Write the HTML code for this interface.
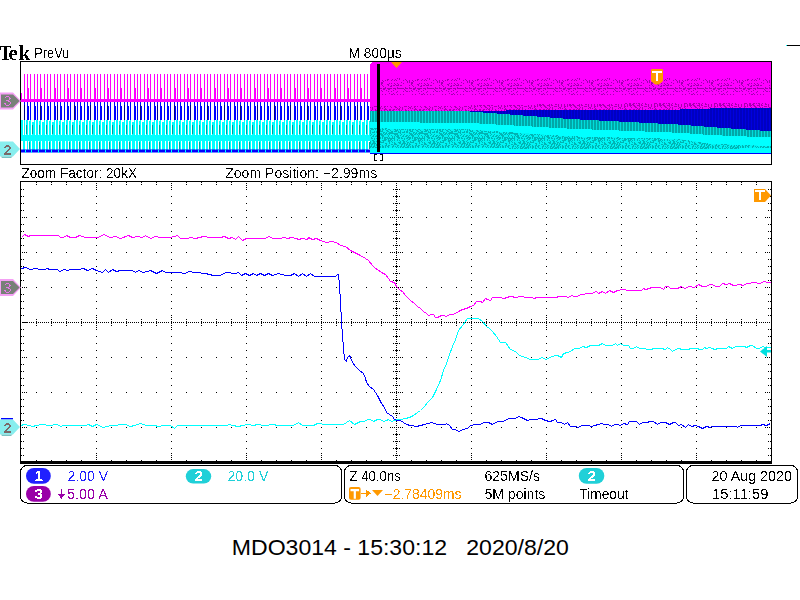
<!DOCTYPE html>
<html><head><meta charset="utf-8"><title>MDO3014</title>
<style>html,body{margin:0;padding:0;background:#fff;width:800px;height:600px;overflow:hidden}svg{display:block}</style>
</head><body>
<svg width="800" height="600" viewBox="0 0 800 600">
<defs><pattern id="pdots" x="0" y="0" width="30" height="17" patternUnits="userSpaceOnUse"><rect width="30" height="17" fill="#ff00ff"/><path d="M1 0h1v1h-1zM3 0h1v1h-1zM4 0h1v1h-1zM6 0h1v1h-1zM7 0h1v1h-1zM8 0h1v1h-1zM10 0h1v1h-1zM11 0h1v1h-1zM19 0h1v1h-1zM22 0h1v1h-1zM28 0h1v1h-1zM0 1h1v1h-1zM1 1h1v1h-1zM23 1h1v1h-1zM7 2h1v1h-1zM15 2h1v1h-1zM19 2h1v1h-1zM25 2h1v1h-1zM0 3h1v1h-1zM1 3h1v1h-1zM3 3h1v1h-1zM4 3h1v1h-1zM5 3h1v1h-1zM7 3h1v1h-1zM8 3h1v1h-1zM9 3h1v1h-1zM10 3h1v1h-1zM11 3h1v1h-1zM12 3h1v1h-1zM13 3h1v1h-1zM15 3h1v1h-1zM16 3h1v1h-1zM17 3h1v1h-1zM19 3h1v1h-1zM20 3h1v1h-1zM21 3h1v1h-1zM23 3h1v1h-1zM24 3h1v1h-1zM25 3h1v1h-1zM27 3h1v1h-1zM28 3h1v1h-1zM29 3h1v1h-1zM5 4h1v1h-1zM14 4h1v1h-1zM23 4h1v1h-1zM24 4h1v1h-1zM28 4h1v1h-1zM29 4h1v1h-1zM3 5h1v1h-1zM15 5h1v1h-1zM21 5h1v1h-1zM26 5h1v1h-1zM1 6h1v1h-1zM7 6h1v1h-1zM13 6h1v1h-1zM16 6h1v1h-1zM17 6h1v1h-1zM19 6h1v1h-1zM22 6h1v1h-1zM28 6h1v1h-1zM6 7h1v1h-1zM3 8h1v1h-1zM29 8h1v1h-1zM1 9h1v1h-1zM2 9h1v1h-1zM4 9h1v1h-1zM7 9h1v1h-1zM10 9h1v1h-1zM13 9h1v1h-1zM22 9h1v1h-1zM25 9h1v1h-1zM7 10h1v1h-1zM9 10h1v1h-1zM2 11h1v1h-1zM5 11h1v1h-1zM9 11h1v1h-1zM15 11h1v1h-1zM27 11h1v1h-1zM28 11h1v1h-1zM1 12h1v1h-1zM4 12h1v1h-1zM6 12h1v1h-1zM13 12h1v1h-1zM16 12h1v1h-1zM19 12h1v1h-1zM22 12h1v1h-1zM25 12h1v1h-1zM27 12h1v1h-1zM17 13h1v1h-1zM19 13h1v1h-1zM23 13h1v1h-1zM11 14h1v1h-1zM17 14h1v1h-1zM19 14h1v1h-1zM21 14h1v1h-1zM22 14h1v1h-1zM1 15h1v1h-1zM4 15h1v1h-1zM7 15h1v1h-1zM13 15h1v1h-1zM21 15h1v1h-1zM22 15h1v1h-1zM29 15h1v1h-1zM5 16h1v1h-1zM8 16h1v1h-1zM21 16h1v1h-1zM27 16h1v1h-1zM28 16h1v1h-1z" fill="#a000b0"/></pattern><pattern id="pdm" x="0" y="0" width="30" height="6" patternUnits="userSpaceOnUse"><rect width="30" height="6" fill="#ff00ff"/><path d="M7 0h1v1h-1zM9 0h1v1h-1zM12 0h1v1h-1zM18 0h1v1h-1zM20 0h1v1h-1zM22 0h1v1h-1zM25 0h1v1h-1zM0 1h1v1h-1zM3 1h1v1h-1zM4 1h1v1h-1zM6 1h1v1h-1zM8 1h1v1h-1zM9 1h1v1h-1zM12 1h1v1h-1zM15 1h1v1h-1zM24 1h1v1h-1zM25 1h1v1h-1zM26 1h1v1h-1zM29 1h1v1h-1zM0 2h1v1h-1zM2 2h1v1h-1zM3 2h1v1h-1zM9 2h1v1h-1zM11 2h1v1h-1zM15 2h1v1h-1zM16 2h1v1h-1zM18 2h1v1h-1zM21 2h1v1h-1zM24 2h1v1h-1zM27 2h1v1h-1zM29 2h1v1h-1zM0 3h1v1h-1zM1 3h1v1h-1zM3 3h1v1h-1zM4 3h1v1h-1zM7 3h1v1h-1zM8 3h1v1h-1zM9 3h1v1h-1zM11 3h1v1h-1zM12 3h1v1h-1zM18 3h1v1h-1zM21 3h1v1h-1zM24 3h1v1h-1zM27 3h1v1h-1zM29 3h1v1h-1zM0 4h1v1h-1zM4 4h1v1h-1zM5 4h1v1h-1zM9 4h1v1h-1zM14 4h1v1h-1zM15 4h1v1h-1zM16 4h1v1h-1zM18 4h1v1h-1zM21 4h1v1h-1zM24 4h1v1h-1zM25 4h1v1h-1zM27 4h1v1h-1zM1 5h1v1h-1zM5 5h1v1h-1zM6 5h1v1h-1zM10 5h1v1h-1zM12 5h1v1h-1zM19 5h1v1h-1zM20 5h1v1h-1zM24 5h1v1h-1z" fill="#a800b0"/></pattern><pattern id="pteal" x="0" y="0" width="3" height="2" patternUnits="userSpaceOnUse"><rect width="3" height="2" fill="#00a8a8"/><path d="M2 0h1v1h-1zM2 1h1v1h-1z" fill="#00dcdc"/></pattern><pattern id="pblue" x="0" y="0" width="3" height="2" patternUnits="userSpaceOnUse"><rect width="3" height="2" fill="#0000c0"/><path d="M1 0h1v1h-1zM1 1h1v1h-1z" fill="#0000e0"/></pattern><pattern id="ptdots" x="0" y="0" width="30" height="20" patternUnits="userSpaceOnUse"><rect width="30" height="20" fill="#00b4b4"/><path d="M1 0h1v1h-1zM3 0h1v1h-1zM5 0h1v1h-1zM6 0h1v1h-1zM8 0h1v1h-1zM10 0h1v1h-1zM11 0h1v1h-1zM14 0h1v1h-1zM15 0h1v1h-1zM16 0h1v1h-1zM18 0h1v1h-1zM19 0h1v1h-1zM20 0h1v1h-1zM21 0h1v1h-1zM26 0h1v1h-1zM27 0h1v1h-1zM0 1h1v1h-1zM2 1h1v1h-1zM3 1h1v1h-1zM4 1h1v1h-1zM5 1h1v1h-1zM6 1h1v1h-1zM7 1h1v1h-1zM8 1h1v1h-1zM9 1h1v1h-1zM11 1h1v1h-1zM12 1h1v1h-1zM15 1h1v1h-1zM17 1h1v1h-1zM18 1h1v1h-1zM19 1h1v1h-1zM21 1h1v1h-1zM22 1h1v1h-1zM24 1h1v1h-1zM25 1h1v1h-1zM26 1h1v1h-1zM27 1h1v1h-1zM0 2h1v1h-1zM1 2h1v1h-1zM3 2h1v1h-1zM5 2h1v1h-1zM6 2h1v1h-1zM7 2h1v1h-1zM11 2h1v1h-1zM12 2h1v1h-1zM15 2h1v1h-1zM16 2h1v1h-1zM19 2h1v1h-1zM24 2h1v1h-1zM25 2h1v1h-1zM26 2h1v1h-1zM27 2h1v1h-1zM28 2h1v1h-1zM0 3h1v1h-1zM1 3h1v1h-1zM2 3h1v1h-1zM3 3h1v1h-1zM6 3h1v1h-1zM7 3h1v1h-1zM8 3h1v1h-1zM11 3h1v1h-1zM16 3h1v1h-1zM18 3h1v1h-1zM20 3h1v1h-1zM21 3h1v1h-1zM22 3h1v1h-1zM23 3h1v1h-1zM24 3h1v1h-1zM27 3h1v1h-1zM28 3h1v1h-1zM0 4h1v1h-1zM3 4h1v1h-1zM7 4h1v1h-1zM8 4h1v1h-1zM9 4h1v1h-1zM10 4h1v1h-1zM13 4h1v1h-1zM15 4h1v1h-1zM18 4h1v1h-1zM21 4h1v1h-1zM22 4h1v1h-1zM23 4h1v1h-1zM24 4h1v1h-1zM25 4h1v1h-1zM27 4h1v1h-1zM28 4h1v1h-1zM29 4h1v1h-1zM0 5h1v1h-1zM1 5h1v1h-1zM2 5h1v1h-1zM4 5h1v1h-1zM5 5h1v1h-1zM6 5h1v1h-1zM9 5h1v1h-1zM10 5h1v1h-1zM12 5h1v1h-1zM13 5h1v1h-1zM15 5h1v1h-1zM17 5h1v1h-1zM20 5h1v1h-1zM21 5h1v1h-1zM23 5h1v1h-1zM24 5h1v1h-1zM27 5h1v1h-1zM0 6h1v1h-1zM1 6h1v1h-1zM4 6h1v1h-1zM6 6h1v1h-1zM8 6h1v1h-1zM9 6h1v1h-1zM12 6h1v1h-1zM15 6h1v1h-1zM16 6h1v1h-1zM19 6h1v1h-1zM21 6h1v1h-1zM24 6h1v1h-1zM26 6h1v1h-1zM29 6h1v1h-1zM0 7h1v1h-1zM1 7h1v1h-1zM3 7h1v1h-1zM4 7h1v1h-1zM5 7h1v1h-1zM7 7h1v1h-1zM9 7h1v1h-1zM11 7h1v1h-1zM14 7h1v1h-1zM19 7h1v1h-1zM21 7h1v1h-1zM24 7h1v1h-1zM26 7h1v1h-1zM27 7h1v1h-1zM29 7h1v1h-1zM1 8h1v1h-1zM3 8h1v1h-1zM6 8h1v1h-1zM8 8h1v1h-1zM9 8h1v1h-1zM13 8h1v1h-1zM17 8h1v1h-1zM19 8h1v1h-1zM20 8h1v1h-1zM21 8h1v1h-1zM23 8h1v1h-1zM24 8h1v1h-1zM27 8h1v1h-1zM28 8h1v1h-1zM0 9h1v1h-1zM1 9h1v1h-1zM2 9h1v1h-1zM3 9h1v1h-1zM6 9h1v1h-1zM8 9h1v1h-1zM10 9h1v1h-1zM14 9h1v1h-1zM16 9h1v1h-1zM18 9h1v1h-1zM21 9h1v1h-1zM24 9h1v1h-1zM26 9h1v1h-1zM27 9h1v1h-1zM1 10h1v1h-1zM2 10h1v1h-1zM3 10h1v1h-1zM4 10h1v1h-1zM8 10h1v1h-1zM9 10h1v1h-1zM11 10h1v1h-1zM12 10h1v1h-1zM13 10h1v1h-1zM14 10h1v1h-1zM15 10h1v1h-1zM16 10h1v1h-1zM18 10h1v1h-1zM21 10h1v1h-1zM23 10h1v1h-1zM24 10h1v1h-1zM25 10h1v1h-1zM28 10h1v1h-1zM29 10h1v1h-1zM0 11h1v1h-1zM3 11h1v1h-1zM7 11h1v1h-1zM9 11h1v1h-1zM11 11h1v1h-1zM12 11h1v1h-1zM13 11h1v1h-1zM15 11h1v1h-1zM18 11h1v1h-1zM19 11h1v1h-1zM23 11h1v1h-1zM24 11h1v1h-1zM25 11h1v1h-1zM26 11h1v1h-1zM29 11h1v1h-1zM3 12h1v1h-1zM4 12h1v1h-1zM5 12h1v1h-1zM6 12h1v1h-1zM7 12h1v1h-1zM11 12h1v1h-1zM15 12h1v1h-1zM18 12h1v1h-1zM20 12h1v1h-1zM21 12h1v1h-1zM22 12h1v1h-1zM25 12h1v1h-1zM27 12h1v1h-1zM28 12h1v1h-1zM8 13h1v1h-1zM9 13h1v1h-1zM11 13h1v1h-1zM12 13h1v1h-1zM13 13h1v1h-1zM14 13h1v1h-1zM15 13h1v1h-1zM16 13h1v1h-1zM17 13h1v1h-1zM18 13h1v1h-1zM22 13h1v1h-1zM24 13h1v1h-1zM27 13h1v1h-1zM0 14h1v1h-1zM1 14h1v1h-1zM2 14h1v1h-1zM3 14h1v1h-1zM8 14h1v1h-1zM9 14h1v1h-1zM10 14h1v1h-1zM12 14h1v1h-1zM13 14h1v1h-1zM15 14h1v1h-1zM16 14h1v1h-1zM17 14h1v1h-1zM18 14h1v1h-1zM19 14h1v1h-1zM23 14h1v1h-1zM26 14h1v1h-1zM28 14h1v1h-1zM0 15h1v1h-1zM2 15h1v1h-1zM3 15h1v1h-1zM4 15h1v1h-1zM6 15h1v1h-1zM9 15h1v1h-1zM11 15h1v1h-1zM12 15h1v1h-1zM14 15h1v1h-1zM15 15h1v1h-1zM18 15h1v1h-1zM20 15h1v1h-1zM24 15h1v1h-1zM25 15h1v1h-1zM26 15h1v1h-1zM27 15h1v1h-1zM29 15h1v1h-1zM0 16h1v1h-1zM1 16h1v1h-1zM3 16h1v1h-1zM5 16h1v1h-1zM9 16h1v1h-1zM10 16h1v1h-1zM11 16h1v1h-1zM14 16h1v1h-1zM17 16h1v1h-1zM19 16h1v1h-1zM20 16h1v1h-1zM21 16h1v1h-1zM24 16h1v1h-1zM25 16h1v1h-1zM26 16h1v1h-1zM27 16h1v1h-1zM29 16h1v1h-1zM0 17h1v1h-1zM1 17h1v1h-1zM3 17h1v1h-1zM5 17h1v1h-1zM6 17h1v1h-1zM10 17h1v1h-1zM12 17h1v1h-1zM13 17h1v1h-1zM14 17h1v1h-1zM15 17h1v1h-1zM16 17h1v1h-1zM21 17h1v1h-1zM23 17h1v1h-1zM28 17h1v1h-1zM5 18h1v1h-1zM6 18h1v1h-1zM7 18h1v1h-1zM10 18h1v1h-1zM13 18h1v1h-1zM15 18h1v1h-1zM18 18h1v1h-1zM21 18h1v1h-1zM23 18h1v1h-1zM26 18h1v1h-1zM2 19h1v1h-1zM3 19h1v1h-1zM5 19h1v1h-1zM6 19h1v1h-1zM8 19h1v1h-1zM9 19h1v1h-1zM10 19h1v1h-1zM11 19h1v1h-1zM12 19h1v1h-1zM13 19h1v1h-1zM15 19h1v1h-1zM16 19h1v1h-1zM17 19h1v1h-1zM20 19h1v1h-1zM21 19h1v1h-1zM22 19h1v1h-1zM23 19h1v1h-1zM27 19h1v1h-1zM29 19h1v1h-1z" fill="#00f4f4"/></pattern><filter id="crisp" x="-5%" y="-20%" width="110%" height="140%" color-interpolation-filters="sRGB"><feComponentTransfer><feFuncA type="discrete" tableValues="0 0 0 0 0 0 0 0 0 0 0 1 1 1 1 1 1 1 1 1"/></feComponentTransfer></filter></defs>
<g filter="url(#crisp)"><text x="-0.6" y="59.8" font-family="'Liberation Serif', serif" font-size="21.0" font-weight="bold" fill="#000" textLength="12.2" lengthAdjust="spacingAndGlyphs" >T</text></g>
<g filter="url(#crisp)"><text x="8.6" y="59.8" font-family="'Liberation Serif', serif" font-size="21.0" font-weight="bold" fill="#000" >e</text></g>
<g filter="url(#crisp)"><text x="18.8" y="59.8" font-family="'Liberation Serif', serif" font-size="20.2" font-weight="bold" fill="#000" >k</text></g>
<g filter="url(#crisp)"><text x="34.3" y="58.0" font-family="'Liberation Sans', sans-serif" font-size="14.8" font-weight="normal" fill="#000" textLength="35.0" lengthAdjust="spacingAndGlyphs" >PreVu</text></g>
<g filter="url(#crisp)"><text x="348.6" y="57.7" font-family="'Liberation Sans', sans-serif" font-size="14.8" font-weight="normal" fill="#000" textLength="53.0" lengthAdjust="spacingAndGlyphs" >M 800μs</text></g>
<rect x="787" y="45" width="13" height="1" fill="#000"/><rect x="786" y="45" width="1" height="1" fill="#00ffff"/>
<path d="M24 74h1v25h-1zM27 74h1v25h-1zM30 74h1v25h-1zM34 74h1v25h-1zM37 74h1v25h-1zM40 74h1v25h-1zM44 74h1v25h-1zM47 74h1v25h-1zM50 74h1v25h-1zM54 74h1v25h-1zM57 74h1v25h-1zM60 74h1v25h-1zM64 74h1v25h-1zM67 74h1v25h-1zM70 74h1v25h-1zM74 74h1v25h-1zM77 74h1v25h-1zM80 74h1v25h-1zM84 74h1v25h-1zM87 74h1v25h-1zM90 74h1v25h-1zM94 74h1v25h-1zM97 74h1v25h-1zM100 74h1v25h-1zM104 74h1v25h-1zM107 74h1v25h-1zM110 74h1v25h-1zM114 74h1v25h-1zM117 74h1v25h-1zM120 74h1v25h-1zM124 74h1v25h-1zM127 74h1v25h-1zM130 74h1v25h-1zM134 74h1v25h-1zM137 74h1v25h-1zM140 74h1v25h-1zM144 74h1v25h-1zM147 74h1v25h-1zM150 74h1v25h-1zM154 74h1v25h-1zM157 74h1v25h-1zM160 74h1v25h-1zM164 74h1v25h-1zM167 74h1v25h-1zM170 74h1v25h-1zM174 74h1v25h-1zM177 74h1v25h-1zM180 74h1v25h-1zM184 74h1v25h-1zM187 74h1v25h-1zM190 74h1v25h-1zM194 74h1v25h-1zM197 74h1v25h-1zM200 74h1v25h-1zM204 74h1v25h-1zM207 74h1v25h-1zM210 74h1v25h-1zM214 74h1v25h-1zM217 74h1v25h-1zM220 74h1v25h-1zM224 74h1v25h-1zM227 74h1v25h-1zM230 74h1v25h-1zM234 74h1v25h-1zM237 74h1v25h-1zM240 74h1v25h-1zM244 74h1v25h-1zM247 74h1v25h-1zM250 74h1v25h-1zM254 74h1v25h-1zM257 74h1v25h-1zM260 74h1v25h-1zM264 74h1v25h-1zM267 74h1v25h-1zM270 74h1v25h-1zM274 74h1v25h-1zM277 74h1v25h-1zM280 74h1v25h-1zM284 74h1v25h-1zM287 74h1v25h-1zM290 74h1v25h-1zM294 74h1v25h-1zM297 74h1v25h-1zM300 74h1v25h-1zM304 74h1v25h-1zM307 74h1v25h-1zM310 74h1v25h-1zM314 74h1v25h-1zM317 74h1v25h-1zM320 74h1v25h-1zM324 74h1v25h-1zM327 74h1v25h-1zM330 74h1v25h-1zM334 74h1v25h-1zM337 74h1v25h-1zM340 74h1v25h-1zM344 74h1v25h-1zM347 74h1v25h-1zM350 74h1v25h-1zM354 74h1v25h-1zM357 74h1v25h-1zM360 74h1v25h-1zM364 74h1v25h-1zM367 74h1v25h-1zM28 88h1v11h-1zM41 88h1v11h-1zM55 88h1v11h-1zM68 88h1v11h-1zM81 88h1v11h-1zM95 88h1v11h-1zM108 88h1v11h-1zM121 88h1v11h-1zM135 88h1v11h-1zM148 88h1v11h-1zM161 88h1v11h-1zM175 88h1v11h-1zM188 88h1v11h-1zM201 88h1v11h-1zM215 88h1v11h-1zM228 88h1v11h-1zM241 88h1v11h-1zM255 88h1v11h-1zM268 88h1v11h-1zM281 88h1v11h-1zM295 88h1v11h-1zM308 88h1v11h-1zM321 88h1v11h-1zM335 88h1v11h-1zM348 88h1v11h-1zM361 88h1v11h-1zM21 93h1v6h-1z" fill="#ff00ff"/>
<rect x="21" y="99" width="349" height="3" fill="#ff00ff"/>
<path d="M24 102h1v3h-1zM30 102h1v3h-1zM37 102h1v3h-1zM44 102h1v3h-1zM50 102h1v3h-1zM57 102h1v3h-1zM64 102h1v3h-1zM70 102h1v3h-1zM77 102h1v3h-1zM84 102h1v3h-1zM90 102h1v3h-1zM97 102h1v3h-1zM104 102h1v3h-1zM110 102h1v3h-1zM117 102h1v3h-1zM124 102h1v3h-1zM130 102h1v3h-1zM137 102h1v3h-1zM144 102h1v3h-1zM150 102h1v3h-1zM157 102h1v3h-1zM164 102h1v3h-1zM170 102h1v3h-1zM177 102h1v3h-1zM184 102h1v3h-1zM190 102h1v3h-1zM197 102h1v3h-1zM204 102h1v3h-1zM210 102h1v3h-1zM217 102h1v3h-1zM224 102h1v3h-1zM230 102h1v3h-1zM237 102h1v3h-1zM244 102h1v3h-1zM250 102h1v3h-1zM257 102h1v3h-1zM264 102h1v3h-1zM270 102h1v3h-1zM277 102h1v3h-1zM284 102h1v3h-1zM290 102h1v3h-1zM297 102h1v3h-1zM304 102h1v3h-1zM310 102h1v3h-1zM317 102h1v3h-1zM324 102h1v3h-1zM330 102h1v3h-1zM337 102h1v3h-1zM344 102h1v3h-1zM350 102h1v3h-1zM357 102h1v3h-1zM364 102h1v3h-1z" fill="#c000c0"/>
<path d="M24 102h1v19h-1zM27 102h1v19h-1zM30 102h1v19h-1zM34 102h1v19h-1zM37 102h1v19h-1zM40 102h1v19h-1zM44 102h1v19h-1zM47 102h1v19h-1zM50 102h1v19h-1zM54 102h1v19h-1zM57 102h1v19h-1zM60 102h1v19h-1zM64 102h1v19h-1zM67 102h1v19h-1zM70 102h1v19h-1zM74 102h1v19h-1zM77 102h1v19h-1zM80 102h1v19h-1zM84 102h1v19h-1zM87 102h1v19h-1zM90 102h1v19h-1zM94 102h1v19h-1zM97 102h1v19h-1zM100 102h1v19h-1zM104 102h1v19h-1zM107 102h1v19h-1zM110 102h1v19h-1zM114 102h1v19h-1zM117 102h1v19h-1zM120 102h1v19h-1zM124 102h1v19h-1zM127 102h1v19h-1zM130 102h1v19h-1zM134 102h1v19h-1zM137 102h1v19h-1zM140 102h1v19h-1zM144 102h1v19h-1zM147 102h1v19h-1zM150 102h1v19h-1zM154 102h1v19h-1zM157 102h1v19h-1zM160 102h1v19h-1zM164 102h1v19h-1zM167 102h1v19h-1zM170 102h1v19h-1zM174 102h1v19h-1zM177 102h1v19h-1zM180 102h1v19h-1zM184 102h1v19h-1zM187 102h1v19h-1zM190 102h1v19h-1zM194 102h1v19h-1zM197 102h1v19h-1zM200 102h1v19h-1zM204 102h1v19h-1zM207 102h1v19h-1zM210 102h1v19h-1zM214 102h1v19h-1zM217 102h1v19h-1zM220 102h1v19h-1zM224 102h1v19h-1zM227 102h1v19h-1zM230 102h1v19h-1zM234 102h1v19h-1zM237 102h1v19h-1zM240 102h1v19h-1zM244 102h1v19h-1zM247 102h1v19h-1zM250 102h1v19h-1zM254 102h1v19h-1zM257 102h1v19h-1zM260 102h1v19h-1zM264 102h1v19h-1zM267 102h1v19h-1zM270 102h1v19h-1zM274 102h1v19h-1zM277 102h1v19h-1zM280 102h1v19h-1zM284 102h1v19h-1zM287 102h1v19h-1zM290 102h1v19h-1zM294 102h1v19h-1zM297 102h1v19h-1zM300 102h1v19h-1zM304 102h1v19h-1zM307 102h1v19h-1zM310 102h1v19h-1zM314 102h1v19h-1zM317 102h1v19h-1zM320 102h1v19h-1zM324 102h1v19h-1zM327 102h1v19h-1zM330 102h1v19h-1zM334 102h1v19h-1zM337 102h1v19h-1zM340 102h1v19h-1zM344 102h1v19h-1zM347 102h1v19h-1zM350 102h1v19h-1zM354 102h1v19h-1zM357 102h1v19h-1zM360 102h1v19h-1zM364 102h1v19h-1zM367 102h1v19h-1zM28 106h1v14h-1zM35 106h1v14h-1zM41 106h1v14h-1zM48 106h1v14h-1zM55 106h1v14h-1zM61 106h1v14h-1zM68 106h1v14h-1zM75 106h1v14h-1zM81 106h1v14h-1zM88 106h1v14h-1zM95 106h1v14h-1zM101 106h1v14h-1zM108 106h1v14h-1zM115 106h1v14h-1zM121 106h1v14h-1zM128 106h1v14h-1zM135 106h1v14h-1zM141 106h1v14h-1zM148 106h1v14h-1zM155 106h1v14h-1zM161 106h1v14h-1zM168 106h1v14h-1zM175 106h1v14h-1zM181 106h1v14h-1zM188 106h1v14h-1zM195 106h1v14h-1zM201 106h1v14h-1zM208 106h1v14h-1zM215 106h1v14h-1zM221 106h1v14h-1zM228 106h1v14h-1zM235 106h1v14h-1zM241 106h1v14h-1zM248 106h1v14h-1zM255 106h1v14h-1zM261 106h1v14h-1zM268 106h1v14h-1zM275 106h1v14h-1zM281 106h1v14h-1zM288 106h1v14h-1zM295 106h1v14h-1zM301 106h1v14h-1zM308 106h1v14h-1zM315 106h1v14h-1zM321 106h1v14h-1zM328 106h1v14h-1zM335 106h1v14h-1zM341 106h1v14h-1zM348 106h1v14h-1zM355 106h1v14h-1zM361 106h1v14h-1zM368 106h1v14h-1z" fill="#0000ff"/>
<path d="M24 105h1v16h-1zM40 105h1v16h-1zM57 105h1v16h-1zM74 105h1v16h-1zM90 105h1v16h-1zM107 105h1v16h-1zM124 105h1v16h-1zM140 105h1v16h-1zM157 105h1v16h-1zM174 105h1v16h-1zM190 105h1v16h-1zM207 105h1v16h-1zM224 105h1v16h-1zM240 105h1v16h-1zM257 105h1v16h-1zM274 105h1v16h-1zM290 105h1v16h-1zM307 105h1v16h-1zM324 105h1v16h-1zM340 105h1v16h-1zM357 105h1v16h-1z" fill="#000090"/>
<path d="M26 120h1v15h-1zM29 121h1v14h-1zM32 122h2v13h-2zM36 120h1v15h-1zM39 121h1v14h-1zM42 122h2v13h-2zM46 120h1v15h-1zM49 121h1v14h-1zM52 122h2v13h-2zM56 120h1v15h-1zM59 121h1v14h-1zM62 122h2v13h-2zM66 120h1v15h-1zM69 121h1v14h-1zM72 122h2v13h-2zM76 120h1v15h-1zM79 121h1v14h-1zM82 122h2v13h-2zM86 120h1v15h-1zM89 121h1v14h-1zM92 122h2v13h-2zM96 120h1v15h-1zM99 121h1v14h-1zM102 122h2v13h-2zM106 120h1v15h-1zM109 121h1v14h-1zM112 122h2v13h-2zM116 120h1v15h-1zM119 121h1v14h-1zM122 122h2v13h-2zM126 120h1v15h-1zM129 121h1v14h-1zM132 122h2v13h-2zM136 120h1v15h-1zM139 121h1v14h-1zM142 122h2v13h-2zM146 120h1v15h-1zM149 121h1v14h-1zM152 122h2v13h-2zM156 120h1v15h-1zM159 121h1v14h-1zM162 122h2v13h-2zM166 120h1v15h-1zM169 121h1v14h-1zM172 122h2v13h-2zM176 120h1v15h-1zM179 121h1v14h-1zM182 122h2v13h-2zM186 120h1v15h-1zM189 121h1v14h-1zM192 122h2v13h-2zM196 120h1v15h-1zM199 121h1v14h-1zM202 122h2v13h-2zM206 120h1v15h-1zM209 121h1v14h-1zM212 122h2v13h-2zM216 120h1v15h-1zM219 121h1v14h-1zM222 122h2v13h-2zM226 120h1v15h-1zM229 121h1v14h-1zM232 122h2v13h-2zM236 120h1v15h-1zM239 121h1v14h-1zM242 122h2v13h-2zM246 120h1v15h-1zM249 121h1v14h-1zM252 122h2v13h-2zM256 120h1v15h-1zM259 121h1v14h-1zM262 122h2v13h-2zM266 120h1v15h-1zM269 121h1v14h-1zM272 122h2v13h-2zM276 120h1v15h-1zM279 121h1v14h-1zM282 122h2v13h-2zM286 120h1v15h-1zM289 121h1v14h-1zM292 122h2v13h-2zM296 120h1v15h-1zM299 121h1v14h-1zM302 122h2v13h-2zM306 120h1v15h-1zM309 121h1v14h-1zM312 122h2v13h-2zM316 120h1v15h-1zM319 121h1v14h-1zM322 122h2v13h-2zM326 120h1v15h-1zM329 121h1v14h-1zM332 122h2v13h-2zM336 120h1v15h-1zM339 121h1v14h-1zM342 122h2v13h-2zM346 120h1v15h-1zM349 121h1v14h-1zM352 122h2v13h-2zM356 120h1v15h-1zM359 121h1v14h-1zM362 122h2v13h-2zM366 120h1v15h-1zM369 121h1v14h-1z" fill="#00ffff"/>
<path d="M24 120h1v15h-1zM27 120h1v15h-1zM30 120h1v15h-1zM34 120h1v15h-1zM37 120h1v15h-1zM40 120h1v15h-1zM44 120h1v15h-1zM47 120h1v15h-1zM50 120h1v15h-1zM54 120h1v15h-1zM57 120h1v15h-1zM60 120h1v15h-1zM64 120h1v15h-1zM67 120h1v15h-1zM70 120h1v15h-1zM74 120h1v15h-1zM77 120h1v15h-1zM80 120h1v15h-1zM84 120h1v15h-1zM87 120h1v15h-1zM90 120h1v15h-1zM94 120h1v15h-1zM97 120h1v15h-1zM100 120h1v15h-1zM104 120h1v15h-1zM107 120h1v15h-1zM110 120h1v15h-1zM114 120h1v15h-1zM117 120h1v15h-1zM120 120h1v15h-1zM124 120h1v15h-1zM127 120h1v15h-1zM130 120h1v15h-1zM134 120h1v15h-1zM137 120h1v15h-1zM140 120h1v15h-1zM144 120h1v15h-1zM147 120h1v15h-1zM150 120h1v15h-1zM154 120h1v15h-1zM157 120h1v15h-1zM160 120h1v15h-1zM164 120h1v15h-1zM167 120h1v15h-1zM170 120h1v15h-1zM174 120h1v15h-1zM177 120h1v15h-1zM180 120h1v15h-1zM184 120h1v15h-1zM187 120h1v15h-1zM190 120h1v15h-1zM194 120h1v15h-1zM197 120h1v15h-1zM200 120h1v15h-1zM204 120h1v15h-1zM207 120h1v15h-1zM210 120h1v15h-1zM214 120h1v15h-1zM217 120h1v15h-1zM220 120h1v15h-1zM224 120h1v15h-1zM227 120h1v15h-1zM230 120h1v15h-1zM234 120h1v15h-1zM237 120h1v15h-1zM240 120h1v15h-1zM244 120h1v15h-1zM247 120h1v15h-1zM250 120h1v15h-1zM254 120h1v15h-1zM257 120h1v15h-1zM260 120h1v15h-1zM264 120h1v15h-1zM267 120h1v15h-1zM270 120h1v15h-1zM274 120h1v15h-1zM277 120h1v15h-1zM280 120h1v15h-1zM284 120h1v15h-1zM287 120h1v15h-1zM290 120h1v15h-1zM294 120h1v15h-1zM297 120h1v15h-1zM300 120h1v15h-1zM304 120h1v15h-1zM307 120h1v15h-1zM310 120h1v15h-1zM314 120h1v15h-1zM317 120h1v15h-1zM320 120h1v15h-1zM324 120h1v15h-1zM327 120h1v15h-1zM330 120h1v15h-1zM334 120h1v15h-1zM337 120h1v15h-1zM340 120h1v15h-1zM344 120h1v15h-1zM347 120h1v15h-1zM350 120h1v15h-1zM354 120h1v15h-1zM357 120h1v15h-1zM360 120h1v15h-1zM364 120h1v15h-1zM367 120h1v15h-1zM21 120h2v15h-2z" fill="#00ffff"/>
<path d="M26 125h1v9h-1zM32 125h1v9h-1zM39 125h1v9h-1zM46 125h1v9h-1zM52 125h1v9h-1zM59 125h1v9h-1zM66 125h1v9h-1zM72 125h1v9h-1zM79 125h1v9h-1zM86 125h1v9h-1zM92 125h1v9h-1zM99 125h1v9h-1zM106 125h1v9h-1zM112 125h1v9h-1zM119 125h1v9h-1zM126 125h1v9h-1zM132 125h1v9h-1zM139 125h1v9h-1zM146 125h1v9h-1zM152 125h1v9h-1zM159 125h1v9h-1zM166 125h1v9h-1zM172 125h1v9h-1zM179 125h1v9h-1zM186 125h1v9h-1zM192 125h1v9h-1zM199 125h1v9h-1zM206 125h1v9h-1zM212 125h1v9h-1zM219 125h1v9h-1zM226 125h1v9h-1zM232 125h1v9h-1zM239 125h1v9h-1zM246 125h1v9h-1zM252 125h1v9h-1zM259 125h1v9h-1zM266 125h1v9h-1zM272 125h1v9h-1zM279 125h1v9h-1zM286 125h1v9h-1zM292 125h1v9h-1zM299 125h1v9h-1zM306 125h1v9h-1zM312 125h1v9h-1zM319 125h1v9h-1zM326 125h1v9h-1zM332 125h1v9h-1zM339 125h1v9h-1zM346 125h1v9h-1zM352 125h1v9h-1zM359 125h1v9h-1zM366 125h1v9h-1z" fill="#00a0a0"/>
<rect x="21" y="135" width="349" height="6" fill="#00ffff"/>
<path d="M23 141h3v9h-3zM27 141h3v9h-3zM30 141h4v9h-4zM34 141h3v9h-3zM37 141h3v9h-3zM40 141h4v9h-4zM44 141h3v9h-3zM47 141h3v9h-3zM50 141h4v9h-4zM54 141h3v9h-3zM57 141h3v9h-3zM60 141h4v9h-4zM64 141h3v9h-3zM67 141h3v9h-3zM70 141h4v9h-4zM74 141h3v9h-3zM77 141h3v9h-3zM80 141h4v9h-4zM84 141h3v9h-3zM87 141h3v9h-3zM90 141h4v9h-4zM94 141h3v9h-3zM97 141h3v9h-3zM100 141h4v9h-4zM104 141h3v9h-3zM107 141h3v9h-3zM110 141h4v9h-4zM114 141h3v9h-3zM117 141h3v9h-3zM120 141h4v9h-4zM124 141h3v9h-3zM127 141h3v9h-3zM130 141h4v9h-4zM134 141h3v9h-3zM137 141h3v9h-3zM140 141h4v9h-4zM144 141h3v9h-3zM147 141h3v9h-3zM150 141h4v9h-4zM154 141h3v9h-3zM157 141h3v9h-3zM160 141h4v9h-4zM164 141h3v9h-3zM167 141h3v9h-3zM170 141h4v9h-4zM174 141h3v9h-3zM177 141h3v9h-3zM180 141h4v9h-4zM184 141h3v9h-3zM187 141h3v9h-3zM190 141h4v9h-4zM194 141h3v9h-3zM197 141h3v9h-3zM200 141h4v9h-4zM204 141h3v9h-3zM207 141h3v9h-3zM210 141h4v9h-4zM214 141h3v9h-3zM217 141h3v9h-3zM220 141h4v9h-4zM224 141h3v9h-3zM227 141h3v9h-3zM230 141h4v9h-4zM234 141h3v9h-3zM237 141h3v9h-3zM240 141h4v9h-4zM244 141h3v9h-3zM247 141h3v9h-3zM250 141h4v9h-4zM254 141h3v9h-3zM257 141h3v9h-3zM260 141h4v9h-4zM264 141h3v9h-3zM267 141h3v9h-3zM270 141h4v9h-4zM274 141h3v9h-3zM277 141h3v9h-3zM280 141h4v9h-4zM284 141h3v9h-3zM287 141h3v9h-3zM290 141h4v9h-4zM294 141h3v9h-3zM297 141h3v9h-3zM300 141h4v9h-4zM304 141h3v9h-3zM307 141h3v9h-3zM310 141h4v9h-4zM314 141h3v9h-3zM317 141h3v9h-3zM320 141h4v9h-4zM324 141h3v9h-3zM327 141h3v9h-3zM330 141h4v9h-4zM334 141h3v9h-3zM337 141h3v9h-3zM340 141h4v9h-4zM344 141h3v9h-3zM347 141h3v9h-3zM350 141h4v9h-4zM354 141h3v9h-3zM357 141h3v9h-3zM360 141h4v9h-4zM364 141h3v9h-3zM367 141h2v9h-2z" fill="#00ffff"/>
<path d="M25 141h1v9h-1zM28 141h1v9h-1zM31 141h1v9h-1zM35 141h1v9h-1zM38 141h1v9h-1zM41 141h1v9h-1zM45 141h1v9h-1zM48 141h1v9h-1zM51 141h1v9h-1zM55 141h1v9h-1zM58 141h1v9h-1zM61 141h1v9h-1zM65 141h1v9h-1zM68 141h1v9h-1zM71 141h1v9h-1zM75 141h1v9h-1zM78 141h1v9h-1zM81 141h1v9h-1zM85 141h1v9h-1zM88 141h1v9h-1zM91 141h1v9h-1zM95 141h1v9h-1zM98 141h1v9h-1zM101 141h1v9h-1zM105 141h1v9h-1zM108 141h1v9h-1zM111 141h1v9h-1zM115 141h1v9h-1zM118 141h1v9h-1zM121 141h1v9h-1zM125 141h1v9h-1zM128 141h1v9h-1zM131 141h1v9h-1zM135 141h1v9h-1zM138 141h1v9h-1zM141 141h1v9h-1zM145 141h1v9h-1zM148 141h1v9h-1zM151 141h1v9h-1zM155 141h1v9h-1zM158 141h1v9h-1zM161 141h1v9h-1zM165 141h1v9h-1zM168 141h1v9h-1zM171 141h1v9h-1zM175 141h1v9h-1zM178 141h1v9h-1zM181 141h1v9h-1zM185 141h1v9h-1zM188 141h1v9h-1zM191 141h1v9h-1zM195 141h1v9h-1zM198 141h1v9h-1zM201 141h1v9h-1zM205 141h1v9h-1zM208 141h1v9h-1zM211 141h1v9h-1zM215 141h1v9h-1zM218 141h1v9h-1zM221 141h1v9h-1zM225 141h1v9h-1zM228 141h1v9h-1zM231 141h1v9h-1zM235 141h1v9h-1zM238 141h1v9h-1zM241 141h1v9h-1zM245 141h1v9h-1zM248 141h1v9h-1zM251 141h1v9h-1zM255 141h1v9h-1zM258 141h1v9h-1zM261 141h1v9h-1zM265 141h1v9h-1zM268 141h1v9h-1zM271 141h1v9h-1zM275 141h1v9h-1zM278 141h1v9h-1zM281 141h1v9h-1zM285 141h1v9h-1zM288 141h1v9h-1zM291 141h1v9h-1zM295 141h1v9h-1zM298 141h1v9h-1zM301 141h1v9h-1zM305 141h1v9h-1zM308 141h1v9h-1zM311 141h1v9h-1zM315 141h1v9h-1zM318 141h1v9h-1zM321 141h1v9h-1zM325 141h1v9h-1zM328 141h1v9h-1zM331 141h1v9h-1zM335 141h1v9h-1zM338 141h1v9h-1zM341 141h1v9h-1zM345 141h1v9h-1zM348 141h1v9h-1zM351 141h1v9h-1zM355 141h1v9h-1zM358 141h1v9h-1zM361 141h1v9h-1zM365 141h1v9h-1zM368 141h1v9h-1z" fill="#ffffff"/>
<path d="M29 142h1v7h-1zM39 142h1v7h-1zM49 142h1v7h-1zM59 142h1v7h-1zM69 142h1v7h-1zM79 142h1v7h-1zM89 142h1v7h-1zM99 142h1v7h-1zM109 142h1v7h-1zM119 142h1v7h-1zM129 142h1v7h-1zM139 142h1v7h-1zM149 142h1v7h-1zM159 142h1v7h-1zM169 142h1v7h-1zM179 142h1v7h-1zM189 142h1v7h-1zM199 142h1v7h-1zM209 142h1v7h-1zM219 142h1v7h-1zM229 142h1v7h-1zM239 142h1v7h-1zM249 142h1v7h-1zM259 142h1v7h-1zM269 142h1v7h-1zM279 142h1v7h-1zM289 142h1v7h-1zM299 142h1v7h-1zM309 142h1v7h-1zM319 142h1v7h-1zM329 142h1v7h-1zM339 142h1v7h-1zM349 142h1v7h-1zM359 142h1v7h-1zM369 142h1v7h-1z" fill="#00a0a0"/>
<rect x="21" y="149.5" width="349" height="3" fill="#0000ff"/>
<path d="M25 150h1v3h-1zM31 150h1v3h-1zM38 150h1v3h-1zM45 150h1v3h-1zM51 150h1v3h-1zM58 150h1v3h-1zM65 150h1v3h-1zM71 150h1v3h-1zM78 150h1v3h-1zM85 150h1v3h-1zM91 150h1v3h-1zM98 150h1v3h-1zM105 150h1v3h-1zM111 150h1v3h-1zM118 150h1v3h-1zM125 150h1v3h-1zM131 150h1v3h-1zM138 150h1v3h-1zM145 150h1v3h-1zM151 150h1v3h-1zM158 150h1v3h-1zM165 150h1v3h-1zM171 150h1v3h-1zM178 150h1v3h-1zM185 150h1v3h-1zM191 150h1v3h-1zM198 150h1v3h-1zM205 150h1v3h-1zM211 150h1v3h-1zM218 150h1v3h-1zM225 150h1v3h-1zM231 150h1v3h-1zM238 150h1v3h-1zM245 150h1v3h-1zM251 150h1v3h-1zM258 150h1v3h-1zM265 150h1v3h-1zM271 150h1v3h-1zM278 150h1v3h-1zM285 150h1v3h-1zM291 150h1v3h-1zM298 150h1v3h-1zM305 150h1v3h-1zM311 150h1v3h-1zM318 150h1v3h-1zM325 150h1v3h-1zM331 150h1v3h-1zM338 150h1v3h-1zM345 150h1v3h-1zM351 150h1v3h-1zM358 150h1v3h-1zM365 150h1v3h-1z" fill="#00ffff"/>
<g shape-rendering="crispEdges">
<path d="M370 153V66q0-4 4-4H771v91z" fill="#ff00ff"/>
<rect x="380" y="78" width="391" height="17" fill="url(#pdots)"/>
<polygon points="370.0,105.5 470.0,105.5 570.0,104.0 680.0,103.0 710.0,102.6 771.0,103.0 771.0,108.0 710.0,108.5 680.0,109.5 570.0,110.0 470.0,110.8 370.0,110.8" fill="url(#pdm)"/>
<polygon points="370.0,110.8 470.0,110.8 570.0,110.0 680.0,109.5 710.0,108.5 771.0,108.0 771.0,131.3 710.0,127.0 680.0,124.6 570.0,119.0 470.0,111.5 370.0,110.8" fill="url(#pblue)"/>
<polygon points="370.0,110.8 470.0,111.5 570.0,119.0 680.0,124.6 710.0,127.0 771.0,131.3 771.0,137.5 710.0,135.0 680.0,132.8 570.0,128.7 470.0,123.0 370.0,122.0" fill="url(#pteal)"/>
<polygon points="370.0,122.0 470.0,123.0 570.0,128.7 680.0,132.8 710.0,135.0 771.0,137.5 771.0,146.0 710.0,143.8 680.0,139.0 570.0,136.3 470.0,129.5 370.0,128.3" fill="#00ffff"/>
<polygon points="370.0,128.3 470.0,129.5 570.0,136.3 680.0,139.0 710.0,143.8 771.0,146.0 771.0,148.0 710.0,149.0 680.0,148.6 570.0,149.3 470.0,148.0 370.0,147.6" fill="url(#ptdots)"/>
<polygon points="370.0,147.6 470.0,148.0 570.0,149.3 680.0,148.6 710.0,149.0 771.0,148.0 771.0,153.0 370.0,153.0" fill="#00ffff"/>
<rect x="370" y="153" width="401" height="1" fill="#0000ff"/>
</g>
<rect x="377" y="64" width="3" height="88" fill="#000"/>
<path d="M374 154h3v1h-2v5h2v1h-3z M380 154h3v7h-3v-1h2v-5h-2z" fill="#000"/>
<polygon points="391,62 402,62 396.5,68" fill="#ff9900"/>
<path d="M652 69h10q1 0 1 1v11l-4 3.5h-4l-4-3.5v-11q0-1 1-1z" fill="#ff9900"/>
<path d="M652 71h10v2h-4v8h-2v-8h-4z" fill="#fff"/>
<rect x="20.5" y="61.5" width="751" height="103" fill="none" stroke="#000" stroke-width="1"/>
<path d="M0 92.5 H13 L21 101.0 L13 109.5 H0z" fill="#f4a0f4"/><path d="M1 94.5 H13 L19.6 101.0 L13 107.5 H1z" fill="#788078"/><g filter="url(#crisp)"><text x="3.6" y="106.2" font-family="Liberation Sans, sans-serif" font-size="14.5" fill="#e878e8">3</text></g>
<path d="M0 141.5 H13 L20 149.0 L13 156.5 H0z" fill="#88eeee"/><path d="M1 156.5 H12.5 L11 158.0 H2z" fill="#78c4c4"/><g filter="url(#crisp)"><text x="3.4" y="155.0" font-family="Liberation Sans, sans-serif" font-size="14.5" font-weight="bold" fill="#7a6a6a">2</text></g>
<g filter="url(#crisp)"><text x="21.5" y="177.6" font-family="'Liberation Sans', sans-serif" font-size="14.8" font-weight="normal" fill="#000" textLength="115.5" lengthAdjust="spacingAndGlyphs" >Zoom Factor: 20kX</text></g>
<g filter="url(#crisp)"><text x="225.2" y="177.5" font-family="'Liberation Sans', sans-serif" font-size="14.8" font-weight="normal" fill="#000" textLength="152.0" lengthAdjust="spacingAndGlyphs" >Zoom Position: −2.99ms</text></g>
<g shape-rendering="crispEdges">
<path d="M21 189h1v1h-1zM21 196h1v1h-1zM21 203h1v1h-1zM21 210h1v1h-1zM21 224h1v1h-1zM21 231h1v1h-1zM21 238h1v1h-1zM21 245h1v1h-1zM21 259h1v1h-1zM21 266h1v1h-1zM21 273h1v1h-1zM21 280h1v1h-1zM21 294h1v1h-1zM21 301h1v1h-1zM21 308h1v1h-1zM21 315h1v1h-1zM21 329h1v1h-1zM21 336h1v1h-1zM21 343h1v1h-1zM21 350h1v1h-1zM21 364h1v1h-1zM21 371h1v1h-1zM21 378h1v1h-1zM21 385h1v1h-1zM21 399h1v1h-1zM21 406h1v1h-1zM21 413h1v1h-1zM21 420h1v1h-1zM21 434h1v1h-1zM21 441h1v1h-1zM21 448h1v1h-1zM21 455h1v1h-1zM22 217h1v1h-1zM22 252h1v1h-1zM22 287h1v1h-1zM22 322h1v1h-1zM22 357h1v1h-1zM22 392h1v1h-1zM22 427h1v1h-1zM23 189h1v1h-1zM23 196h1v1h-1zM23 203h1v1h-1zM23 210h1v1h-1zM23 224h1v1h-1zM23 231h1v1h-1zM23 238h1v1h-1zM23 245h1v1h-1zM23 259h1v1h-1zM23 266h1v1h-1zM23 273h1v1h-1zM23 280h1v1h-1zM23 294h1v1h-1zM23 301h1v1h-1zM23 308h1v1h-1zM23 315h1v1h-1zM23 322h1v1h-1zM23 329h1v1h-1zM23 336h1v1h-1zM23 343h1v1h-1zM23 350h1v1h-1zM23 364h1v1h-1zM23 371h1v1h-1zM23 378h1v1h-1zM23 385h1v1h-1zM23 399h1v1h-1zM23 406h1v1h-1zM23 413h1v1h-1zM23 420h1v1h-1zM23 434h1v1h-1zM23 441h1v1h-1zM23 448h1v1h-1zM23 455h1v1h-1zM24 217h1v1h-1zM24 252h1v1h-1zM24 287h1v1h-1zM24 322h1v1h-1zM24 357h1v1h-1zM24 392h1v1h-1zM24 427h1v1h-1zM25 322h1v1h-1zM26 217h1v1h-1zM26 252h1v1h-1zM26 287h1v1h-1zM26 322h1v1h-1zM26 357h1v1h-1zM26 392h1v1h-1zM26 427h1v1h-1zM27 322h1v1h-1zM29 322h1v1h-1zM31 322h1v1h-1zM33 322h1v1h-1zM36 182h1v1h-1zM36 184h1v1h-1zM36 217h1v1h-1zM36 252h1v1h-1zM36 287h1v1h-1zM36 319h1v1h-1zM36 321h1v1h-1zM36 322h1v1h-1zM36 323h1v1h-1zM36 325h1v1h-1zM36 357h1v1h-1zM36 392h1v1h-1zM36 427h1v1h-1zM36 460h1v1h-1zM38 322h1v1h-1zM40 322h1v1h-1zM42 322h1v1h-1zM44 322h1v1h-1zM46 322h1v1h-1zM48 322h1v1h-1zM51 182h1v1h-1zM51 184h1v1h-1zM51 217h1v1h-1zM51 252h1v1h-1zM51 287h1v1h-1zM51 319h1v1h-1zM51 321h1v1h-1zM51 322h1v1h-1zM51 323h1v1h-1zM51 325h1v1h-1zM51 357h1v1h-1zM51 392h1v1h-1zM51 427h1v1h-1zM51 460h1v1h-1zM53 322h1v1h-1zM55 322h1v1h-1zM57 322h1v1h-1zM59 322h1v1h-1zM61 322h1v1h-1zM63 322h1v1h-1zM66 182h1v1h-1zM66 184h1v1h-1zM66 217h1v1h-1zM66 252h1v1h-1zM66 287h1v1h-1zM66 319h1v1h-1zM66 321h1v1h-1zM66 322h1v1h-1zM66 323h1v1h-1zM66 325h1v1h-1zM66 357h1v1h-1zM66 392h1v1h-1zM66 427h1v1h-1zM66 460h1v1h-1zM68 322h1v1h-1zM70 322h1v1h-1zM72 322h1v1h-1zM74 322h1v1h-1zM76 322h1v1h-1zM78 322h1v1h-1zM81 182h1v1h-1zM81 184h1v1h-1zM81 217h1v1h-1zM81 252h1v1h-1zM81 287h1v1h-1zM81 319h1v1h-1zM81 321h1v1h-1zM81 322h1v1h-1zM81 323h1v1h-1zM81 325h1v1h-1zM81 357h1v1h-1zM81 392h1v1h-1zM81 427h1v1h-1zM81 460h1v1h-1zM83 322h1v1h-1zM85 322h1v1h-1zM87 322h1v1h-1zM89 322h1v1h-1zM91 322h1v1h-1zM93 322h1v1h-1zM96 183h1v1h-1zM96 185h1v1h-1zM96 187h1v1h-1zM96 189h1v1h-1zM96 196h1v1h-1zM96 203h1v1h-1zM96 210h1v1h-1zM96 217h1v1h-1zM96 224h1v1h-1zM96 231h1v1h-1zM96 238h1v1h-1zM96 245h1v1h-1zM96 252h1v1h-1zM96 259h1v1h-1zM96 266h1v1h-1zM96 273h1v1h-1zM96 280h1v1h-1zM96 287h1v1h-1zM96 294h1v1h-1zM96 301h1v1h-1zM96 308h1v1h-1zM96 315h1v1h-1zM96 317h1v1h-1zM96 319h1v1h-1zM96 321h1v1h-1zM96 322h1v1h-1zM96 323h1v1h-1zM96 325h1v1h-1zM96 327h1v1h-1zM96 329h1v1h-1zM96 336h1v1h-1zM96 343h1v1h-1zM96 350h1v1h-1zM96 357h1v1h-1zM96 364h1v1h-1zM96 371h1v1h-1zM96 378h1v1h-1zM96 385h1v1h-1zM96 392h1v1h-1zM96 399h1v1h-1zM96 406h1v1h-1zM96 413h1v1h-1zM96 420h1v1h-1zM96 427h1v1h-1zM96 434h1v1h-1zM96 441h1v1h-1zM96 448h1v1h-1zM96 453h1v1h-1zM96 455h1v1h-1zM96 457h1v1h-1zM96 459h1v1h-1zM98 322h1v1h-1zM100 322h1v1h-1zM102 322h1v1h-1zM104 322h1v1h-1zM106 322h1v1h-1zM108 322h1v1h-1zM111 182h1v1h-1zM111 184h1v1h-1zM111 217h1v1h-1zM111 252h1v1h-1zM111 287h1v1h-1zM111 319h1v1h-1zM111 321h1v1h-1zM111 322h1v1h-1zM111 323h1v1h-1zM111 325h1v1h-1zM111 357h1v1h-1zM111 392h1v1h-1zM111 427h1v1h-1zM111 460h1v1h-1zM113 322h1v1h-1zM115 322h1v1h-1zM117 322h1v1h-1zM119 322h1v1h-1zM121 322h1v1h-1zM123 322h1v1h-1zM126 182h1v1h-1zM126 184h1v1h-1zM126 217h1v1h-1zM126 252h1v1h-1zM126 287h1v1h-1zM126 319h1v1h-1zM126 321h1v1h-1zM126 322h1v1h-1zM126 323h1v1h-1zM126 325h1v1h-1zM126 357h1v1h-1zM126 392h1v1h-1zM126 427h1v1h-1zM126 460h1v1h-1zM128 322h1v1h-1zM130 322h1v1h-1zM132 322h1v1h-1zM134 322h1v1h-1zM136 322h1v1h-1zM138 322h1v1h-1zM141 182h1v1h-1zM141 184h1v1h-1zM141 217h1v1h-1zM141 252h1v1h-1zM141 287h1v1h-1zM141 319h1v1h-1zM141 321h1v1h-1zM141 322h1v1h-1zM141 323h1v1h-1zM141 325h1v1h-1zM141 357h1v1h-1zM141 392h1v1h-1zM141 427h1v1h-1zM141 460h1v1h-1zM143 322h1v1h-1zM145 322h1v1h-1zM147 322h1v1h-1zM149 322h1v1h-1zM151 322h1v1h-1zM153 322h1v1h-1zM156 182h1v1h-1zM156 184h1v1h-1zM156 217h1v1h-1zM156 252h1v1h-1zM156 287h1v1h-1zM156 319h1v1h-1zM156 321h1v1h-1zM156 322h1v1h-1zM156 323h1v1h-1zM156 325h1v1h-1zM156 357h1v1h-1zM156 392h1v1h-1zM156 427h1v1h-1zM156 460h1v1h-1zM158 322h1v1h-1zM160 322h1v1h-1zM162 322h1v1h-1zM164 322h1v1h-1zM166 322h1v1h-1zM168 322h1v1h-1zM171 183h1v1h-1zM171 185h1v1h-1zM171 187h1v1h-1zM171 189h1v1h-1zM171 196h1v1h-1zM171 203h1v1h-1zM171 210h1v1h-1zM171 217h1v1h-1zM171 224h1v1h-1zM171 231h1v1h-1zM171 238h1v1h-1zM171 245h1v1h-1zM171 252h1v1h-1zM171 259h1v1h-1zM171 266h1v1h-1zM171 273h1v1h-1zM171 280h1v1h-1zM171 287h1v1h-1zM171 294h1v1h-1zM171 301h1v1h-1zM171 308h1v1h-1zM171 315h1v1h-1zM171 317h1v1h-1zM171 319h1v1h-1zM171 321h1v1h-1zM171 322h1v1h-1zM171 323h1v1h-1zM171 325h1v1h-1zM171 327h1v1h-1zM171 329h1v1h-1zM171 336h1v1h-1zM171 343h1v1h-1zM171 350h1v1h-1zM171 357h1v1h-1zM171 364h1v1h-1zM171 371h1v1h-1zM171 378h1v1h-1zM171 385h1v1h-1zM171 392h1v1h-1zM171 399h1v1h-1zM171 406h1v1h-1zM171 413h1v1h-1zM171 420h1v1h-1zM171 427h1v1h-1zM171 434h1v1h-1zM171 441h1v1h-1zM171 448h1v1h-1zM171 453h1v1h-1zM171 455h1v1h-1zM171 457h1v1h-1zM171 459h1v1h-1zM173 322h1v1h-1zM175 322h1v1h-1zM177 322h1v1h-1zM179 322h1v1h-1zM181 322h1v1h-1zM183 322h1v1h-1zM186 182h1v1h-1zM186 184h1v1h-1zM186 217h1v1h-1zM186 252h1v1h-1zM186 287h1v1h-1zM186 319h1v1h-1zM186 321h1v1h-1zM186 322h1v1h-1zM186 323h1v1h-1zM186 325h1v1h-1zM186 357h1v1h-1zM186 392h1v1h-1zM186 427h1v1h-1zM186 460h1v1h-1zM188 322h1v1h-1zM190 322h1v1h-1zM192 322h1v1h-1zM194 322h1v1h-1zM196 322h1v1h-1zM198 322h1v1h-1zM201 182h1v1h-1zM201 184h1v1h-1zM201 217h1v1h-1zM201 252h1v1h-1zM201 287h1v1h-1zM201 319h1v1h-1zM201 321h1v1h-1zM201 322h1v1h-1zM201 323h1v1h-1zM201 325h1v1h-1zM201 357h1v1h-1zM201 392h1v1h-1zM201 427h1v1h-1zM201 460h1v1h-1zM203 322h1v1h-1zM205 322h1v1h-1zM207 322h1v1h-1zM209 322h1v1h-1zM211 322h1v1h-1zM213 322h1v1h-1zM216 182h1v1h-1zM216 184h1v1h-1zM216 217h1v1h-1zM216 252h1v1h-1zM216 287h1v1h-1zM216 319h1v1h-1zM216 321h1v1h-1zM216 322h1v1h-1zM216 323h1v1h-1zM216 325h1v1h-1zM216 357h1v1h-1zM216 392h1v1h-1zM216 427h1v1h-1zM216 460h1v1h-1zM218 322h1v1h-1zM220 322h1v1h-1zM222 322h1v1h-1zM224 322h1v1h-1zM226 322h1v1h-1zM228 322h1v1h-1zM231 182h1v1h-1zM231 184h1v1h-1zM231 217h1v1h-1zM231 252h1v1h-1zM231 287h1v1h-1zM231 319h1v1h-1zM231 321h1v1h-1zM231 322h1v1h-1zM231 323h1v1h-1zM231 325h1v1h-1zM231 357h1v1h-1zM231 392h1v1h-1zM231 427h1v1h-1zM231 460h1v1h-1zM233 322h1v1h-1zM235 322h1v1h-1zM237 322h1v1h-1zM239 322h1v1h-1zM241 322h1v1h-1zM243 322h1v1h-1zM246 183h1v1h-1zM246 185h1v1h-1zM246 187h1v1h-1zM246 189h1v1h-1zM246 196h1v1h-1zM246 203h1v1h-1zM246 210h1v1h-1zM246 217h1v1h-1zM246 224h1v1h-1zM246 231h1v1h-1zM246 238h1v1h-1zM246 245h1v1h-1zM246 252h1v1h-1zM246 259h1v1h-1zM246 266h1v1h-1zM246 273h1v1h-1zM246 280h1v1h-1zM246 287h1v1h-1zM246 294h1v1h-1zM246 301h1v1h-1zM246 308h1v1h-1zM246 315h1v1h-1zM246 317h1v1h-1zM246 319h1v1h-1zM246 321h1v1h-1zM246 322h1v1h-1zM246 323h1v1h-1zM246 325h1v1h-1zM246 327h1v1h-1zM246 329h1v1h-1zM246 336h1v1h-1zM246 343h1v1h-1zM246 350h1v1h-1zM246 357h1v1h-1zM246 364h1v1h-1zM246 371h1v1h-1zM246 378h1v1h-1zM246 385h1v1h-1zM246 392h1v1h-1zM246 399h1v1h-1zM246 406h1v1h-1zM246 413h1v1h-1zM246 420h1v1h-1zM246 427h1v1h-1zM246 434h1v1h-1zM246 441h1v1h-1zM246 448h1v1h-1zM246 453h1v1h-1zM246 455h1v1h-1zM246 457h1v1h-1zM246 459h1v1h-1zM248 322h1v1h-1zM250 322h1v1h-1zM252 322h1v1h-1zM254 322h1v1h-1zM256 322h1v1h-1zM258 322h1v1h-1zM261 182h1v1h-1zM261 184h1v1h-1zM261 217h1v1h-1zM261 252h1v1h-1zM261 287h1v1h-1zM261 319h1v1h-1zM261 321h1v1h-1zM261 322h1v1h-1zM261 323h1v1h-1zM261 325h1v1h-1zM261 357h1v1h-1zM261 392h1v1h-1zM261 427h1v1h-1zM261 460h1v1h-1zM263 322h1v1h-1zM265 322h1v1h-1zM267 322h1v1h-1zM269 322h1v1h-1zM271 322h1v1h-1zM273 322h1v1h-1zM276 182h1v1h-1zM276 184h1v1h-1zM276 217h1v1h-1zM276 252h1v1h-1zM276 287h1v1h-1zM276 319h1v1h-1zM276 321h1v1h-1zM276 322h1v1h-1zM276 323h1v1h-1zM276 325h1v1h-1zM276 357h1v1h-1zM276 392h1v1h-1zM276 427h1v1h-1zM276 460h1v1h-1zM278 322h1v1h-1zM280 322h1v1h-1zM282 322h1v1h-1zM284 322h1v1h-1zM286 322h1v1h-1zM288 322h1v1h-1zM291 182h1v1h-1zM291 184h1v1h-1zM291 217h1v1h-1zM291 252h1v1h-1zM291 287h1v1h-1zM291 319h1v1h-1zM291 321h1v1h-1zM291 322h1v1h-1zM291 323h1v1h-1zM291 325h1v1h-1zM291 357h1v1h-1zM291 392h1v1h-1zM291 427h1v1h-1zM291 460h1v1h-1zM293 322h1v1h-1zM295 322h1v1h-1zM297 322h1v1h-1zM299 322h1v1h-1zM301 322h1v1h-1zM303 322h1v1h-1zM306 182h1v1h-1zM306 184h1v1h-1zM306 217h1v1h-1zM306 252h1v1h-1zM306 287h1v1h-1zM306 319h1v1h-1zM306 321h1v1h-1zM306 322h1v1h-1zM306 323h1v1h-1zM306 325h1v1h-1zM306 357h1v1h-1zM306 392h1v1h-1zM306 427h1v1h-1zM306 460h1v1h-1zM308 322h1v1h-1zM310 322h1v1h-1zM312 322h1v1h-1zM314 322h1v1h-1zM316 322h1v1h-1zM318 322h1v1h-1zM321 183h1v1h-1zM321 185h1v1h-1zM321 187h1v1h-1zM321 189h1v1h-1zM321 196h1v1h-1zM321 203h1v1h-1zM321 210h1v1h-1zM321 217h1v1h-1zM321 224h1v1h-1zM321 231h1v1h-1zM321 238h1v1h-1zM321 245h1v1h-1zM321 252h1v1h-1zM321 259h1v1h-1zM321 266h1v1h-1zM321 273h1v1h-1zM321 280h1v1h-1zM321 287h1v1h-1zM321 294h1v1h-1zM321 301h1v1h-1zM321 308h1v1h-1zM321 315h1v1h-1zM321 317h1v1h-1zM321 319h1v1h-1zM321 321h1v1h-1zM321 322h1v1h-1zM321 323h1v1h-1zM321 325h1v1h-1zM321 327h1v1h-1zM321 329h1v1h-1zM321 336h1v1h-1zM321 343h1v1h-1zM321 350h1v1h-1zM321 357h1v1h-1zM321 364h1v1h-1zM321 371h1v1h-1zM321 378h1v1h-1zM321 385h1v1h-1zM321 392h1v1h-1zM321 399h1v1h-1zM321 406h1v1h-1zM321 413h1v1h-1zM321 420h1v1h-1zM321 427h1v1h-1zM321 434h1v1h-1zM321 441h1v1h-1zM321 448h1v1h-1zM321 453h1v1h-1zM321 455h1v1h-1zM321 457h1v1h-1zM321 459h1v1h-1zM323 322h1v1h-1zM325 322h1v1h-1zM327 322h1v1h-1zM329 322h1v1h-1zM331 322h1v1h-1zM333 322h1v1h-1zM336 182h1v1h-1zM336 184h1v1h-1zM336 217h1v1h-1zM336 252h1v1h-1zM336 287h1v1h-1zM336 319h1v1h-1zM336 321h1v1h-1zM336 322h1v1h-1zM336 323h1v1h-1zM336 325h1v1h-1zM336 357h1v1h-1zM336 392h1v1h-1zM336 427h1v1h-1zM336 460h1v1h-1zM338 322h1v1h-1zM340 322h1v1h-1zM342 322h1v1h-1zM344 322h1v1h-1zM346 322h1v1h-1zM348 322h1v1h-1zM351 182h1v1h-1zM351 184h1v1h-1zM351 217h1v1h-1zM351 252h1v1h-1zM351 287h1v1h-1zM351 319h1v1h-1zM351 321h1v1h-1zM351 322h1v1h-1zM351 323h1v1h-1zM351 325h1v1h-1zM351 357h1v1h-1zM351 392h1v1h-1zM351 427h1v1h-1zM351 460h1v1h-1zM353 322h1v1h-1zM355 322h1v1h-1zM357 322h1v1h-1zM359 322h1v1h-1zM361 322h1v1h-1zM363 322h1v1h-1zM366 182h1v1h-1zM366 184h1v1h-1zM366 217h1v1h-1zM366 252h1v1h-1zM366 287h1v1h-1zM366 319h1v1h-1zM366 321h1v1h-1zM366 322h1v1h-1zM366 323h1v1h-1zM366 325h1v1h-1zM366 357h1v1h-1zM366 392h1v1h-1zM366 427h1v1h-1zM366 460h1v1h-1zM368 322h1v1h-1zM370 322h1v1h-1zM372 322h1v1h-1zM374 322h1v1h-1zM376 322h1v1h-1zM378 322h1v1h-1zM381 182h1v1h-1zM381 184h1v1h-1zM381 217h1v1h-1zM381 252h1v1h-1zM381 287h1v1h-1zM381 319h1v1h-1zM381 321h1v1h-1zM381 322h1v1h-1zM381 323h1v1h-1zM381 325h1v1h-1zM381 357h1v1h-1zM381 392h1v1h-1zM381 427h1v1h-1zM381 460h1v1h-1zM383 322h1v1h-1zM385 322h1v1h-1zM387 322h1v1h-1zM389 322h1v1h-1zM390 217h1v1h-1zM390 252h1v1h-1zM390 287h1v1h-1zM390 357h1v1h-1zM390 392h1v1h-1zM390 427h1v1h-1zM391 322h1v1h-1zM392 217h1v1h-1zM392 252h1v1h-1zM392 287h1v1h-1zM392 357h1v1h-1zM392 392h1v1h-1zM392 427h1v1h-1zM393 189h1v1h-1zM393 196h1v1h-1zM393 203h1v1h-1zM393 210h1v1h-1zM393 224h1v1h-1zM393 231h1v1h-1zM393 238h1v1h-1zM393 245h1v1h-1zM393 259h1v1h-1zM393 266h1v1h-1zM393 273h1v1h-1zM393 280h1v1h-1zM393 294h1v1h-1zM393 301h1v1h-1zM393 308h1v1h-1zM393 315h1v1h-1zM393 322h1v1h-1zM393 329h1v1h-1zM393 336h1v1h-1zM393 343h1v1h-1zM393 350h1v1h-1zM393 364h1v1h-1zM393 371h1v1h-1zM393 378h1v1h-1zM393 385h1v1h-1zM393 399h1v1h-1zM393 406h1v1h-1zM393 413h1v1h-1zM393 420h1v1h-1zM393 434h1v1h-1zM393 441h1v1h-1zM393 448h1v1h-1zM393 455h1v1h-1zM394 217h1v1h-1zM394 252h1v1h-1zM394 287h1v1h-1zM394 357h1v1h-1zM394 392h1v1h-1zM394 427h1v1h-1zM395 189h1v1h-1zM395 196h1v1h-1zM395 203h1v1h-1zM395 210h1v1h-1zM395 224h1v1h-1zM395 231h1v1h-1zM395 238h1v1h-1zM395 245h1v1h-1zM395 259h1v1h-1zM395 266h1v1h-1zM395 273h1v1h-1zM395 280h1v1h-1zM395 294h1v1h-1zM395 301h1v1h-1zM395 308h1v1h-1zM395 315h1v1h-1zM395 322h1v1h-1zM395 329h1v1h-1zM395 336h1v1h-1zM395 343h1v1h-1zM395 350h1v1h-1zM395 364h1v1h-1zM395 371h1v1h-1zM395 378h1v1h-1zM395 385h1v1h-1zM395 399h1v1h-1zM395 406h1v1h-1zM395 413h1v1h-1zM395 420h1v1h-1zM395 434h1v1h-1zM395 441h1v1h-1zM395 448h1v1h-1zM395 455h1v1h-1zM396 183h1v1h-1zM396 185h1v1h-1zM396 187h1v1h-1zM396 189h1v1h-1zM396 191h1v1h-1zM396 193h1v1h-1zM396 195h1v1h-1zM396 196h1v1h-1zM396 197h1v1h-1zM396 199h1v1h-1zM396 201h1v1h-1zM396 203h1v1h-1zM396 205h1v1h-1zM396 207h1v1h-1zM396 209h1v1h-1zM396 210h1v1h-1zM396 211h1v1h-1zM396 213h1v1h-1zM396 215h1v1h-1zM396 217h1v1h-1zM396 219h1v1h-1zM396 221h1v1h-1zM396 223h1v1h-1zM396 224h1v1h-1zM396 225h1v1h-1zM396 227h1v1h-1zM396 229h1v1h-1zM396 231h1v1h-1zM396 233h1v1h-1zM396 235h1v1h-1zM396 237h1v1h-1zM396 238h1v1h-1zM396 239h1v1h-1zM396 241h1v1h-1zM396 243h1v1h-1zM396 245h1v1h-1zM396 247h1v1h-1zM396 249h1v1h-1zM396 251h1v1h-1zM396 252h1v1h-1zM396 253h1v1h-1zM396 255h1v1h-1zM396 257h1v1h-1zM396 259h1v1h-1zM396 261h1v1h-1zM396 263h1v1h-1zM396 265h1v1h-1zM396 266h1v1h-1zM396 267h1v1h-1zM396 269h1v1h-1zM396 271h1v1h-1zM396 273h1v1h-1zM396 275h1v1h-1zM396 277h1v1h-1zM396 279h1v1h-1zM396 280h1v1h-1zM396 281h1v1h-1zM396 283h1v1h-1zM396 285h1v1h-1zM396 287h1v1h-1zM396 289h1v1h-1zM396 291h1v1h-1zM396 293h1v1h-1zM396 294h1v1h-1zM396 295h1v1h-1zM396 297h1v1h-1zM396 299h1v1h-1zM396 301h1v1h-1zM396 303h1v1h-1zM396 305h1v1h-1zM396 307h1v1h-1zM396 308h1v1h-1zM396 309h1v1h-1zM396 311h1v1h-1zM396 313h1v1h-1zM396 315h1v1h-1zM396 317h1v1h-1zM396 319h1v1h-1zM396 321h1v1h-1zM396 322h1v1h-1zM396 323h1v1h-1zM396 325h1v1h-1zM396 327h1v1h-1zM396 329h1v1h-1zM396 331h1v1h-1zM396 333h1v1h-1zM396 335h1v1h-1zM396 336h1v1h-1zM396 337h1v1h-1zM396 339h1v1h-1zM396 341h1v1h-1zM396 343h1v1h-1zM396 345h1v1h-1zM396 347h1v1h-1zM396 349h1v1h-1zM396 350h1v1h-1zM396 351h1v1h-1zM396 353h1v1h-1zM396 355h1v1h-1zM396 357h1v1h-1zM396 359h1v1h-1zM396 361h1v1h-1zM396 363h1v1h-1zM396 364h1v1h-1zM396 365h1v1h-1zM396 367h1v1h-1zM396 369h1v1h-1zM396 371h1v1h-1zM396 373h1v1h-1zM396 375h1v1h-1zM396 377h1v1h-1zM396 378h1v1h-1zM396 379h1v1h-1zM396 381h1v1h-1zM396 383h1v1h-1zM396 385h1v1h-1zM396 387h1v1h-1zM396 389h1v1h-1zM396 391h1v1h-1zM396 392h1v1h-1zM396 393h1v1h-1zM396 395h1v1h-1zM396 397h1v1h-1zM396 399h1v1h-1zM396 401h1v1h-1zM396 403h1v1h-1zM396 405h1v1h-1zM396 406h1v1h-1zM396 407h1v1h-1zM396 409h1v1h-1zM396 411h1v1h-1zM396 413h1v1h-1zM396 415h1v1h-1zM396 417h1v1h-1zM396 419h1v1h-1zM396 420h1v1h-1zM396 421h1v1h-1zM396 423h1v1h-1zM396 425h1v1h-1zM396 427h1v1h-1zM396 429h1v1h-1zM396 431h1v1h-1zM396 433h1v1h-1zM396 434h1v1h-1zM396 435h1v1h-1zM396 437h1v1h-1zM396 439h1v1h-1zM396 441h1v1h-1zM396 443h1v1h-1zM396 445h1v1h-1zM396 447h1v1h-1zM396 448h1v1h-1zM396 449h1v1h-1zM396 451h1v1h-1zM396 453h1v1h-1zM396 455h1v1h-1zM396 457h1v1h-1zM396 459h1v1h-1zM397 189h1v1h-1zM397 196h1v1h-1zM397 203h1v1h-1zM397 210h1v1h-1zM397 224h1v1h-1zM397 231h1v1h-1zM397 238h1v1h-1zM397 245h1v1h-1zM397 259h1v1h-1zM397 266h1v1h-1zM397 273h1v1h-1zM397 280h1v1h-1zM397 294h1v1h-1zM397 301h1v1h-1zM397 308h1v1h-1zM397 315h1v1h-1zM397 322h1v1h-1zM397 329h1v1h-1zM397 336h1v1h-1zM397 343h1v1h-1zM397 350h1v1h-1zM397 364h1v1h-1zM397 371h1v1h-1zM397 378h1v1h-1zM397 385h1v1h-1zM397 399h1v1h-1zM397 406h1v1h-1zM397 413h1v1h-1zM397 420h1v1h-1zM397 434h1v1h-1zM397 441h1v1h-1zM397 448h1v1h-1zM397 455h1v1h-1zM398 217h1v1h-1zM398 252h1v1h-1zM398 287h1v1h-1zM398 357h1v1h-1zM398 392h1v1h-1zM398 427h1v1h-1zM399 189h1v1h-1zM399 196h1v1h-1zM399 203h1v1h-1zM399 210h1v1h-1zM399 224h1v1h-1zM399 231h1v1h-1zM399 238h1v1h-1zM399 245h1v1h-1zM399 259h1v1h-1zM399 266h1v1h-1zM399 273h1v1h-1zM399 280h1v1h-1zM399 294h1v1h-1zM399 301h1v1h-1zM399 308h1v1h-1zM399 315h1v1h-1zM399 322h1v1h-1zM399 329h1v1h-1zM399 336h1v1h-1zM399 343h1v1h-1zM399 350h1v1h-1zM399 364h1v1h-1zM399 371h1v1h-1zM399 378h1v1h-1zM399 385h1v1h-1zM399 399h1v1h-1zM399 406h1v1h-1zM399 413h1v1h-1zM399 420h1v1h-1zM399 434h1v1h-1zM399 441h1v1h-1zM399 448h1v1h-1zM399 455h1v1h-1zM400 217h1v1h-1zM400 252h1v1h-1zM400 287h1v1h-1zM400 357h1v1h-1zM400 392h1v1h-1zM400 427h1v1h-1zM401 322h1v1h-1zM402 217h1v1h-1zM402 252h1v1h-1zM402 287h1v1h-1zM402 357h1v1h-1zM402 392h1v1h-1zM402 427h1v1h-1zM403 322h1v1h-1zM405 322h1v1h-1zM407 322h1v1h-1zM409 322h1v1h-1zM411 182h1v1h-1zM411 184h1v1h-1zM411 217h1v1h-1zM411 252h1v1h-1zM411 287h1v1h-1zM411 319h1v1h-1zM411 321h1v1h-1zM411 322h1v1h-1zM411 323h1v1h-1zM411 325h1v1h-1zM411 357h1v1h-1zM411 392h1v1h-1zM411 427h1v1h-1zM411 460h1v1h-1zM414 322h1v1h-1zM416 322h1v1h-1zM418 322h1v1h-1zM420 322h1v1h-1zM422 322h1v1h-1zM424 322h1v1h-1zM426 182h1v1h-1zM426 184h1v1h-1zM426 217h1v1h-1zM426 252h1v1h-1zM426 287h1v1h-1zM426 319h1v1h-1zM426 321h1v1h-1zM426 322h1v1h-1zM426 323h1v1h-1zM426 325h1v1h-1zM426 357h1v1h-1zM426 392h1v1h-1zM426 427h1v1h-1zM426 460h1v1h-1zM429 322h1v1h-1zM431 322h1v1h-1zM433 322h1v1h-1zM435 322h1v1h-1zM437 322h1v1h-1zM439 322h1v1h-1zM441 182h1v1h-1zM441 184h1v1h-1zM441 217h1v1h-1zM441 252h1v1h-1zM441 287h1v1h-1zM441 319h1v1h-1zM441 321h1v1h-1zM441 322h1v1h-1zM441 323h1v1h-1zM441 325h1v1h-1zM441 357h1v1h-1zM441 392h1v1h-1zM441 427h1v1h-1zM441 460h1v1h-1zM444 322h1v1h-1zM446 322h1v1h-1zM448 322h1v1h-1zM450 322h1v1h-1zM452 322h1v1h-1zM454 322h1v1h-1zM456 182h1v1h-1zM456 184h1v1h-1zM456 217h1v1h-1zM456 252h1v1h-1zM456 287h1v1h-1zM456 319h1v1h-1zM456 321h1v1h-1zM456 322h1v1h-1zM456 323h1v1h-1zM456 325h1v1h-1zM456 357h1v1h-1zM456 392h1v1h-1zM456 427h1v1h-1zM456 460h1v1h-1zM459 322h1v1h-1zM461 322h1v1h-1zM463 322h1v1h-1zM465 322h1v1h-1zM467 322h1v1h-1zM469 322h1v1h-1zM471 183h1v1h-1zM471 185h1v1h-1zM471 187h1v1h-1zM471 189h1v1h-1zM471 196h1v1h-1zM471 203h1v1h-1zM471 210h1v1h-1zM471 217h1v1h-1zM471 224h1v1h-1zM471 231h1v1h-1zM471 238h1v1h-1zM471 245h1v1h-1zM471 252h1v1h-1zM471 259h1v1h-1zM471 266h1v1h-1zM471 273h1v1h-1zM471 280h1v1h-1zM471 287h1v1h-1zM471 294h1v1h-1zM471 301h1v1h-1zM471 308h1v1h-1zM471 315h1v1h-1zM471 317h1v1h-1zM471 319h1v1h-1zM471 321h1v1h-1zM471 322h1v1h-1zM471 323h1v1h-1zM471 325h1v1h-1zM471 327h1v1h-1zM471 329h1v1h-1zM471 336h1v1h-1zM471 343h1v1h-1zM471 350h1v1h-1zM471 357h1v1h-1zM471 364h1v1h-1zM471 371h1v1h-1zM471 378h1v1h-1zM471 385h1v1h-1zM471 392h1v1h-1zM471 399h1v1h-1zM471 406h1v1h-1zM471 413h1v1h-1zM471 420h1v1h-1zM471 427h1v1h-1zM471 434h1v1h-1zM471 441h1v1h-1zM471 448h1v1h-1zM471 453h1v1h-1zM471 455h1v1h-1zM471 457h1v1h-1zM471 459h1v1h-1zM474 322h1v1h-1zM476 322h1v1h-1zM478 322h1v1h-1zM480 322h1v1h-1zM482 322h1v1h-1zM484 322h1v1h-1zM486 182h1v1h-1zM486 184h1v1h-1zM486 217h1v1h-1zM486 252h1v1h-1zM486 287h1v1h-1zM486 319h1v1h-1zM486 321h1v1h-1zM486 322h1v1h-1zM486 323h1v1h-1zM486 325h1v1h-1zM486 357h1v1h-1zM486 392h1v1h-1zM486 427h1v1h-1zM486 460h1v1h-1zM489 322h1v1h-1zM491 322h1v1h-1zM493 322h1v1h-1zM495 322h1v1h-1zM497 322h1v1h-1zM499 322h1v1h-1zM501 182h1v1h-1zM501 184h1v1h-1zM501 217h1v1h-1zM501 252h1v1h-1zM501 287h1v1h-1zM501 319h1v1h-1zM501 321h1v1h-1zM501 322h1v1h-1zM501 323h1v1h-1zM501 325h1v1h-1zM501 357h1v1h-1zM501 392h1v1h-1zM501 427h1v1h-1zM501 460h1v1h-1zM504 322h1v1h-1zM506 322h1v1h-1zM508 322h1v1h-1zM510 322h1v1h-1zM512 322h1v1h-1zM514 322h1v1h-1zM516 182h1v1h-1zM516 184h1v1h-1zM516 217h1v1h-1zM516 252h1v1h-1zM516 287h1v1h-1zM516 319h1v1h-1zM516 321h1v1h-1zM516 322h1v1h-1zM516 323h1v1h-1zM516 325h1v1h-1zM516 357h1v1h-1zM516 392h1v1h-1zM516 427h1v1h-1zM516 460h1v1h-1zM519 322h1v1h-1zM521 322h1v1h-1zM523 322h1v1h-1zM525 322h1v1h-1zM527 322h1v1h-1zM529 322h1v1h-1zM531 182h1v1h-1zM531 184h1v1h-1zM531 217h1v1h-1zM531 252h1v1h-1zM531 287h1v1h-1zM531 319h1v1h-1zM531 321h1v1h-1zM531 322h1v1h-1zM531 323h1v1h-1zM531 325h1v1h-1zM531 357h1v1h-1zM531 392h1v1h-1zM531 427h1v1h-1zM531 460h1v1h-1zM534 322h1v1h-1zM536 322h1v1h-1zM538 322h1v1h-1zM540 322h1v1h-1zM542 322h1v1h-1zM544 322h1v1h-1zM546 183h1v1h-1zM546 185h1v1h-1zM546 187h1v1h-1zM546 189h1v1h-1zM546 196h1v1h-1zM546 203h1v1h-1zM546 210h1v1h-1zM546 217h1v1h-1zM546 224h1v1h-1zM546 231h1v1h-1zM546 238h1v1h-1zM546 245h1v1h-1zM546 252h1v1h-1zM546 259h1v1h-1zM546 266h1v1h-1zM546 273h1v1h-1zM546 280h1v1h-1zM546 287h1v1h-1zM546 294h1v1h-1zM546 301h1v1h-1zM546 308h1v1h-1zM546 315h1v1h-1zM546 317h1v1h-1zM546 319h1v1h-1zM546 321h1v1h-1zM546 322h1v1h-1zM546 323h1v1h-1zM546 325h1v1h-1zM546 327h1v1h-1zM546 329h1v1h-1zM546 336h1v1h-1zM546 343h1v1h-1zM546 350h1v1h-1zM546 357h1v1h-1zM546 364h1v1h-1zM546 371h1v1h-1zM546 378h1v1h-1zM546 385h1v1h-1zM546 392h1v1h-1zM546 399h1v1h-1zM546 406h1v1h-1zM546 413h1v1h-1zM546 420h1v1h-1zM546 427h1v1h-1zM546 434h1v1h-1zM546 441h1v1h-1zM546 448h1v1h-1zM546 453h1v1h-1zM546 455h1v1h-1zM546 457h1v1h-1zM546 459h1v1h-1zM549 322h1v1h-1zM551 322h1v1h-1zM553 322h1v1h-1zM555 322h1v1h-1zM557 322h1v1h-1zM559 322h1v1h-1zM561 182h1v1h-1zM561 184h1v1h-1zM561 217h1v1h-1zM561 252h1v1h-1zM561 287h1v1h-1zM561 319h1v1h-1zM561 321h1v1h-1zM561 322h1v1h-1zM561 323h1v1h-1zM561 325h1v1h-1zM561 357h1v1h-1zM561 392h1v1h-1zM561 427h1v1h-1zM561 460h1v1h-1zM564 322h1v1h-1zM566 322h1v1h-1zM568 322h1v1h-1zM570 322h1v1h-1zM572 322h1v1h-1zM574 322h1v1h-1zM576 182h1v1h-1zM576 184h1v1h-1zM576 217h1v1h-1zM576 252h1v1h-1zM576 287h1v1h-1zM576 319h1v1h-1zM576 321h1v1h-1zM576 322h1v1h-1zM576 323h1v1h-1zM576 325h1v1h-1zM576 357h1v1h-1zM576 392h1v1h-1zM576 427h1v1h-1zM576 460h1v1h-1zM579 322h1v1h-1zM581 322h1v1h-1zM583 322h1v1h-1zM585 322h1v1h-1zM587 322h1v1h-1zM589 322h1v1h-1zM591 182h1v1h-1zM591 184h1v1h-1zM591 217h1v1h-1zM591 252h1v1h-1zM591 287h1v1h-1zM591 319h1v1h-1zM591 321h1v1h-1zM591 322h1v1h-1zM591 323h1v1h-1zM591 325h1v1h-1zM591 357h1v1h-1zM591 392h1v1h-1zM591 427h1v1h-1zM591 460h1v1h-1zM594 322h1v1h-1zM596 322h1v1h-1zM598 322h1v1h-1zM600 322h1v1h-1zM602 322h1v1h-1zM604 322h1v1h-1zM606 182h1v1h-1zM606 184h1v1h-1zM606 217h1v1h-1zM606 252h1v1h-1zM606 287h1v1h-1zM606 319h1v1h-1zM606 321h1v1h-1zM606 322h1v1h-1zM606 323h1v1h-1zM606 325h1v1h-1zM606 357h1v1h-1zM606 392h1v1h-1zM606 427h1v1h-1zM606 460h1v1h-1zM609 322h1v1h-1zM611 322h1v1h-1zM613 322h1v1h-1zM615 322h1v1h-1zM617 322h1v1h-1zM619 322h1v1h-1zM621 183h1v1h-1zM621 185h1v1h-1zM621 187h1v1h-1zM621 189h1v1h-1zM621 196h1v1h-1zM621 203h1v1h-1zM621 210h1v1h-1zM621 217h1v1h-1zM621 224h1v1h-1zM621 231h1v1h-1zM621 238h1v1h-1zM621 245h1v1h-1zM621 252h1v1h-1zM621 259h1v1h-1zM621 266h1v1h-1zM621 273h1v1h-1zM621 280h1v1h-1zM621 287h1v1h-1zM621 294h1v1h-1zM621 301h1v1h-1zM621 308h1v1h-1zM621 315h1v1h-1zM621 317h1v1h-1zM621 319h1v1h-1zM621 321h1v1h-1zM621 322h1v1h-1zM621 323h1v1h-1zM621 325h1v1h-1zM621 327h1v1h-1zM621 329h1v1h-1zM621 336h1v1h-1zM621 343h1v1h-1zM621 350h1v1h-1zM621 357h1v1h-1zM621 364h1v1h-1zM621 371h1v1h-1zM621 378h1v1h-1zM621 385h1v1h-1zM621 392h1v1h-1zM621 399h1v1h-1zM621 406h1v1h-1zM621 413h1v1h-1zM621 420h1v1h-1zM621 427h1v1h-1zM621 434h1v1h-1zM621 441h1v1h-1zM621 448h1v1h-1zM621 453h1v1h-1zM621 455h1v1h-1zM621 457h1v1h-1zM621 459h1v1h-1zM624 322h1v1h-1zM626 322h1v1h-1zM628 322h1v1h-1zM630 322h1v1h-1zM632 322h1v1h-1zM634 322h1v1h-1zM636 182h1v1h-1zM636 184h1v1h-1zM636 217h1v1h-1zM636 252h1v1h-1zM636 287h1v1h-1zM636 319h1v1h-1zM636 321h1v1h-1zM636 322h1v1h-1zM636 323h1v1h-1zM636 325h1v1h-1zM636 357h1v1h-1zM636 392h1v1h-1zM636 427h1v1h-1zM636 460h1v1h-1zM639 322h1v1h-1zM641 322h1v1h-1zM643 322h1v1h-1zM645 322h1v1h-1zM647 322h1v1h-1zM649 322h1v1h-1zM651 182h1v1h-1zM651 184h1v1h-1zM651 217h1v1h-1zM651 252h1v1h-1zM651 287h1v1h-1zM651 319h1v1h-1zM651 321h1v1h-1zM651 322h1v1h-1zM651 323h1v1h-1zM651 325h1v1h-1zM651 357h1v1h-1zM651 392h1v1h-1zM651 427h1v1h-1zM651 460h1v1h-1zM654 322h1v1h-1zM656 322h1v1h-1zM658 322h1v1h-1zM660 322h1v1h-1zM662 322h1v1h-1zM664 322h1v1h-1zM666 182h1v1h-1zM666 184h1v1h-1zM666 217h1v1h-1zM666 252h1v1h-1zM666 287h1v1h-1zM666 319h1v1h-1zM666 321h1v1h-1zM666 322h1v1h-1zM666 323h1v1h-1zM666 325h1v1h-1zM666 357h1v1h-1zM666 392h1v1h-1zM666 427h1v1h-1zM666 460h1v1h-1zM669 322h1v1h-1zM671 322h1v1h-1zM673 322h1v1h-1zM675 322h1v1h-1zM677 322h1v1h-1zM679 322h1v1h-1zM681 182h1v1h-1zM681 184h1v1h-1zM681 217h1v1h-1zM681 252h1v1h-1zM681 287h1v1h-1zM681 319h1v1h-1zM681 321h1v1h-1zM681 322h1v1h-1zM681 323h1v1h-1zM681 325h1v1h-1zM681 357h1v1h-1zM681 392h1v1h-1zM681 427h1v1h-1zM681 460h1v1h-1zM684 322h1v1h-1zM686 322h1v1h-1zM688 322h1v1h-1zM690 322h1v1h-1zM692 322h1v1h-1zM694 322h1v1h-1zM696 183h1v1h-1zM696 185h1v1h-1zM696 187h1v1h-1zM696 189h1v1h-1zM696 196h1v1h-1zM696 203h1v1h-1zM696 210h1v1h-1zM696 217h1v1h-1zM696 224h1v1h-1zM696 231h1v1h-1zM696 238h1v1h-1zM696 245h1v1h-1zM696 252h1v1h-1zM696 259h1v1h-1zM696 266h1v1h-1zM696 273h1v1h-1zM696 280h1v1h-1zM696 287h1v1h-1zM696 294h1v1h-1zM696 301h1v1h-1zM696 308h1v1h-1zM696 315h1v1h-1zM696 317h1v1h-1zM696 319h1v1h-1zM696 321h1v1h-1zM696 322h1v1h-1zM696 323h1v1h-1zM696 325h1v1h-1zM696 327h1v1h-1zM696 329h1v1h-1zM696 336h1v1h-1zM696 343h1v1h-1zM696 350h1v1h-1zM696 357h1v1h-1zM696 364h1v1h-1zM696 371h1v1h-1zM696 378h1v1h-1zM696 385h1v1h-1zM696 392h1v1h-1zM696 399h1v1h-1zM696 406h1v1h-1zM696 413h1v1h-1zM696 420h1v1h-1zM696 427h1v1h-1zM696 434h1v1h-1zM696 441h1v1h-1zM696 448h1v1h-1zM696 453h1v1h-1zM696 455h1v1h-1zM696 457h1v1h-1zM696 459h1v1h-1zM699 322h1v1h-1zM701 322h1v1h-1zM703 322h1v1h-1zM705 322h1v1h-1zM707 322h1v1h-1zM709 322h1v1h-1zM711 182h1v1h-1zM711 184h1v1h-1zM711 217h1v1h-1zM711 252h1v1h-1zM711 287h1v1h-1zM711 319h1v1h-1zM711 321h1v1h-1zM711 322h1v1h-1zM711 323h1v1h-1zM711 325h1v1h-1zM711 357h1v1h-1zM711 392h1v1h-1zM711 427h1v1h-1zM711 460h1v1h-1zM714 322h1v1h-1zM716 322h1v1h-1zM718 322h1v1h-1zM720 322h1v1h-1zM722 322h1v1h-1zM724 322h1v1h-1zM726 182h1v1h-1zM726 184h1v1h-1zM726 217h1v1h-1zM726 252h1v1h-1zM726 287h1v1h-1zM726 319h1v1h-1zM726 321h1v1h-1zM726 322h1v1h-1zM726 323h1v1h-1zM726 325h1v1h-1zM726 357h1v1h-1zM726 392h1v1h-1zM726 427h1v1h-1zM726 460h1v1h-1zM729 322h1v1h-1zM731 322h1v1h-1zM733 322h1v1h-1zM735 322h1v1h-1zM737 322h1v1h-1zM739 322h1v1h-1zM741 182h1v1h-1zM741 184h1v1h-1zM741 217h1v1h-1zM741 252h1v1h-1zM741 287h1v1h-1zM741 319h1v1h-1zM741 321h1v1h-1zM741 322h1v1h-1zM741 323h1v1h-1zM741 325h1v1h-1zM741 357h1v1h-1zM741 392h1v1h-1zM741 427h1v1h-1zM741 460h1v1h-1zM744 322h1v1h-1zM746 322h1v1h-1zM748 322h1v1h-1zM750 322h1v1h-1zM752 322h1v1h-1zM754 322h1v1h-1zM756 182h1v1h-1zM756 184h1v1h-1zM756 217h1v1h-1zM756 252h1v1h-1zM756 287h1v1h-1zM756 319h1v1h-1zM756 321h1v1h-1zM756 322h1v1h-1zM756 323h1v1h-1zM756 325h1v1h-1zM756 357h1v1h-1zM756 392h1v1h-1zM756 427h1v1h-1zM756 460h1v1h-1zM759 322h1v1h-1zM761 322h1v1h-1zM763 322h1v1h-1zM765 217h1v1h-1zM765 252h1v1h-1zM765 287h1v1h-1zM765 322h1v1h-1zM765 357h1v1h-1zM765 392h1v1h-1zM765 427h1v1h-1zM767 217h1v1h-1zM767 252h1v1h-1zM767 287h1v1h-1zM767 322h1v1h-1zM767 357h1v1h-1zM767 392h1v1h-1zM767 427h1v1h-1zM768 189h1v1h-1zM768 196h1v1h-1zM768 203h1v1h-1zM768 210h1v1h-1zM768 224h1v1h-1zM768 231h1v1h-1zM768 238h1v1h-1zM768 245h1v1h-1zM768 259h1v1h-1zM768 266h1v1h-1zM768 273h1v1h-1zM768 280h1v1h-1zM768 294h1v1h-1zM768 301h1v1h-1zM768 308h1v1h-1zM768 315h1v1h-1zM768 329h1v1h-1zM768 336h1v1h-1zM768 343h1v1h-1zM768 350h1v1h-1zM768 364h1v1h-1zM768 371h1v1h-1zM768 378h1v1h-1zM768 385h1v1h-1zM768 399h1v1h-1zM768 406h1v1h-1zM768 413h1v1h-1zM768 420h1v1h-1zM768 434h1v1h-1zM768 441h1v1h-1zM768 448h1v1h-1zM768 455h1v1h-1zM769 217h1v1h-1zM769 252h1v1h-1zM769 287h1v1h-1zM769 322h1v1h-1zM769 357h1v1h-1zM769 392h1v1h-1zM769 427h1v1h-1zM770 189h1v1h-1zM770 196h1v1h-1zM770 203h1v1h-1zM770 210h1v1h-1zM770 224h1v1h-1zM770 231h1v1h-1zM770 238h1v1h-1zM770 245h1v1h-1zM770 259h1v1h-1zM770 266h1v1h-1zM770 273h1v1h-1zM770 280h1v1h-1zM770 294h1v1h-1zM770 301h1v1h-1zM770 308h1v1h-1zM770 315h1v1h-1zM770 329h1v1h-1zM770 336h1v1h-1zM770 343h1v1h-1zM770 350h1v1h-1zM770 364h1v1h-1zM770 371h1v1h-1zM770 378h1v1h-1zM770 385h1v1h-1zM770 399h1v1h-1zM770 406h1v1h-1zM770 413h1v1h-1zM770 420h1v1h-1zM770 434h1v1h-1zM770 441h1v1h-1zM770 448h1v1h-1zM770 455h1v1h-1z" fill="#000"/>
<rect x="20" y="181" width="752" height="1" fill="#000"/><rect x="20" y="181" width="1" height="282" fill="#000"/><rect x="771" y="181" width="1" height="282" fill="#000"/><rect x="20" y="461" width="752" height="3" fill="#000"/>
</g>
<g shape-rendering="crispEdges" fill="none" stroke-width="1">
<polyline points="21.5,425.5 23.5,424.5 29.5,425.5 32.5,426.5 36.5,425.5 42.5,424.5 49.5,425.5 57.5,424.5 60.5,426.5 63.5,425.5 85.5,425.5 88.5,424.5 92.5,426.5 96.5,424.5 103.5,427.5 110.5,425.5 125.5,424.5 130.5,426.5 134.5,425.5 140.5,423.5 146.5,425.5 155.5,425.5 157.5,426.5 164.5,425.5 170.5,425.5 174.5,428.5 177.5,425.5 191.5,425.5 192.5,425.5 226.5,425.5 229.5,424.5 232.5,425.5 238.5,426.5 242.5,425.5 248.5,424.5 253.5,425.5 257.5,424.5 264.5,425.5 273.5,424.5 277.5,425.5 293.5,425.5 298.5,422.5 302.5,425.5 313.5,425.5 317.5,423.5 325.5,424.5 343.5,424.5 349.5,420.5 354.5,424.5 360.5,421.5 364.5,421.5 367.5,419.5 370.5,419.5 373.5,421.5 377.5,419.5 380.5,419.5 383.5,421.5 386.5,420.5 388.5,419.5 391.5,421.5 394.5,420.5 397.5,419.5 400.5,419.5 405.5,418.5 409.5,417.5 413.5,415.5 417.5,412.5 420.5,410.5 424.5,406.5 427.5,402.5 432.5,397.5 436.5,389.5 440.5,380.5 443.5,370.5 446.5,363.5 449.5,354.5 452.5,346.5 455.5,339.5 458.5,330.5 462.5,325.5 467.5,318.5 472.5,318.5 478.5,318.5 482.5,321.5 486.5,326.5 489.5,328.5 492.5,331.5 496.5,336.5 500.5,342.5 505.5,342.5 510.5,349.5 515.5,351.5 519.5,355.5 525.5,357.5 530.5,359.5 538.5,359.5 541.5,357.5 546.5,359.5 551.5,356.5 557.5,355.5 561.5,357.5 563.5,353.5 567.5,352.5 570.5,351.5 574.5,348.5 579.5,348.5 582.5,346.5 586.5,347.5 590.5,345.5 598.5,345.5 602.5,343.5 605.5,345.5 612.5,345.5 615.5,343.5 617.5,345.5 620.5,343.5 623.5,345.5 628.5,345.5 630.5,348.5 633.5,348.5 636.5,346.5 639.5,348.5 651.5,349.5 653.5,348.5 661.5,348.5 665.5,349.5 667.5,347.5 670.5,349.5 672.5,351.5 677.5,348.5 683.5,349.5 688.5,349.5 690.5,348.5 697.5,348.5 699.5,349.5 702.5,349.5 704.5,347.5 706.5,348.5 709.5,347.5 712.5,348.5 714.5,349.5 718.5,348.5 726.5,348.5 728.5,346.5 732.5,348.5 735.5,346.5 744.5,346.5 746.5,347.5 750.5,345.5 752.5,345.5 756.5,348.5 759.5,348.5 762.5,346.5 765.5,347.5 770.5,347.5" stroke="#00ffff"/>
<polyline points="21.5,237.5 24.5,234.5 28.5,236.5 30.5,235.5 58.5,235.5 60.5,237.5 63.5,237.5 66.5,235.5 70.5,237.5 75.5,237.5 79.5,235.5 85.5,237.5 98.5,237.5 103.5,234.5 110.5,237.5 115.5,236.5 120.5,238.5 128.5,235.5 132.5,237.5 137.5,236.5 142.5,237.5 145.5,235.5 150.5,238.5 155.5,236.5 160.5,237.5 170.5,237.5 177.5,235.5 180.5,238.5 187.5,238.5 190.5,237.5 195.5,238.5 203.5,236.5 210.5,237.5 220.5,237.5 224.5,236.5 228.5,238.5 232.5,237.5 235.5,239.5 238.5,236.5 242.5,240.5 246.5,238.5 265.5,238.5 268.5,236.5 273.5,238.5 280.5,238.5 283.5,237.5 288.5,238.5 290.5,237.5 296.5,238.5 298.5,239.5 302.5,238.5 307.5,239.5 308.5,237.5 312.5,239.5 316.5,238.5 320.5,240.5 326.5,242.5 331.5,241.5 336.5,242.5 340.5,245.5 345.5,246.5 350.5,250.5 352.5,251.5 356.5,253.5 360.5,255.5 365.5,258.5 368.5,260.5 372.5,265.5 375.5,268.5 377.5,269.5 381.5,272.5 385.5,274.5 388.5,278.5 390.5,281.5 394.5,282.5 396.5,286.5 400.5,290.5 402.5,291.5 405.5,295.5 408.5,298.5 411.5,301.5 413.5,302.5 415.5,304.5 417.5,306.5 420.5,308.5 423.5,311.5 426.5,313.5 428.5,315.5 431.5,314.5 433.5,314.5 435.5,317.5 437.5,317.5 441.5,315.5 443.5,315.5 446.5,316.5 449.5,314.5 452.5,314.5 455.5,313.5 458.5,311.5 462.5,309.5 466.5,308.5 470.5,306.5 473.5,305.5 476.5,301.5 480.5,301.5 482.5,302.5 485.5,298.5 487.5,299.5 490.5,300.5 492.5,297.5 500.5,297.5 503.5,298.5 507.5,297.5 509.5,296.5 512.5,296.5 514.5,297.5 521.5,296.5 522.5,296.5 525.5,297.5 531.5,297.5 534.5,298.5 536.5,297.5 545.5,297.5 556.5,297.5 558.5,296.5 565.5,296.5 568.5,297.5 571.5,295.5 574.5,296.5 577.5,296.5 580.5,294.5 589.5,293.5 591.5,293.5 596.5,291.5 598.5,293.5 602.5,291.5 605.5,293.5 609.5,290.5 613.5,292.5 617.5,290.5 622.5,289.5 625.5,289.5 626.5,290.5 635.5,290.5 641.5,290.5 643.5,288.5 645.5,289.5 649.5,288.5 651.5,287.5 660.5,287.5 663.5,289.5 665.5,286.5 668.5,286.5 670.5,288.5 677.5,288.5 681.5,286.5 684.5,288.5 689.5,286.5 694.5,287.5 698.5,284.5 702.5,286.5 706.5,286.5 709.5,284.5 712.5,284.5 715.5,286.5 719.5,286.5 722.5,283.5 726.5,284.5 729.5,283.5 733.5,285.5 740.5,284.5 742.5,285.5 747.5,283.5 755.5,282.5 758.5,283.5 760.5,283.5 763.5,281.5 768.5,282.5 770.5,282.5" stroke="#ff00ff"/>
<polyline points="21.5,268.5 25.5,267.5 30.5,269.5 35.5,268.5 40.5,269.5 45.5,269.5 46.5,268.5 50.5,269.5 57.5,269.5 59.5,271.5 64.5,269.5 67.5,270.5 70.5,269.5 78.5,269.5 83.5,268.5 87.5,270.5 92.5,268.5 96.5,270.5 102.5,272.5 105.5,269.5 108.5,272.5 112.5,269.5 116.5,271.5 120.5,270.5 132.5,270.5 135.5,272.5 138.5,270.5 143.5,272.5 150.5,270.5 156.5,273.5 162.5,270.5 165.5,272.5 178.5,272.5 185.5,273.5 188.5,271.5 195.5,272.5 205.5,273.5 213.5,275.5 220.5,275.5 225.5,272.5 235.5,273.5 238.5,272.5 241.5,275.5 245.5,273.5 249.5,275.5 253.5,273.5 256.5,275.5 260.5,273.5 264.5,275.5 268.5,273.5 272.5,275.5 278.5,273.5 285.5,275.5 290.5,275.5 294.5,273.5 298.5,276.5 302.5,273.5 306.5,276.5 310.5,273.5 314.5,276.5 320.5,276.5 330.5,276.5 335.5,276.5 337.5,274.5 338.5,274.5 339.5,285.5 340.5,301.5 341.5,321.5 342.5,335.5 343.5,347.5 344.5,359.5 346.5,361.5 347.5,357.5 349.5,355.5 350.5,357.5 352.5,362.5 355.5,366.5 359.5,370.5 363.5,373.5 365.5,378.5 366.5,382.5 369.5,386.5 373.5,389.5 375.5,392.5 377.5,395.5 379.5,399.5 381.5,403.5 384.5,407.5 386.5,412.5 389.5,414.5 392.5,416.5 394.5,419.5 397.5,420.5 400.5,420.5 403.5,422.5 406.5,424.5 410.5,425.5 416.5,426.5 424.5,424.5 431.5,422.5 437.5,424.5 440.5,424.5 445.5,424.5 446.5,423.5 449.5,425.5 452.5,429.5 455.5,429.5 458.5,431.5 459.5,431.5 462.5,429.5 467.5,428.5 470.5,425.5 476.5,424.5 480.5,424.5 483.5,422.5 488.5,422.5 492.5,424.5 497.5,421.5 503.5,421.5 506.5,419.5 509.5,418.5 515.5,418.5 518.5,416.5 521.5,417.5 527.5,420.5 530.5,419.5 536.5,419.5 539.5,418.5 541.5,418.5 545.5,420.5 549.5,421.5 550.5,421.5 552.5,420.5 555.5,419.5 557.5,422.5 561.5,422.5 564.5,424.5 567.5,422.5 570.5,426.5 575.5,426.5 578.5,427.5 581.5,425.5 588.5,425.5 591.5,426.5 594.5,425.5 598.5,424.5 601.5,423.5 604.5,424.5 608.5,424.5 611.5,426.5 614.5,424.5 617.5,424.5 620.5,425.5 623.5,423.5 627.5,424.5 629.5,421.5 636.5,421.5 639.5,424.5 642.5,422.5 646.5,422.5 650.5,421.5 653.5,421.5 657.5,424.5 660.5,422.5 665.5,422.5 669.5,424.5 673.5,422.5 675.5,422.5 678.5,425.5 681.5,424.5 685.5,427.5 688.5,424.5 691.5,426.5 695.5,425.5 698.5,426.5 702.5,428.5 706.5,426.5 710.5,427.5 711.5,426.5 736.5,426.5 737.5,427.5 740.5,425.5 760.5,425.5 762.5,424.5 766.5,425.5 770.5,423.5" stroke="#0000ff"/>
</g>
<rect x="1" y="418" width="12" height="1.5" fill="#0000ff"/>
<path d="M0 279.0 H13 L21 287.5 L13 296.0 H0z" fill="#f4a0f4"/><path d="M1 281.0 H13 L19.6 287.5 L13 294.0 H1z" fill="#788078"/><g filter="url(#crisp)"><text x="3.6" y="292.7" font-family="Liberation Sans, sans-serif" font-size="14.5" fill="#e878e8">3</text></g>
<path d="M0 419.5 H13 L20 427.0 L13 434.5 H0z" fill="#88eeee"/><path d="M1 434.5 H12.5 L11 436.0 H2z" fill="#78c4c4"/><g filter="url(#crisp)"><text x="3.4" y="433.0" font-family="Liberation Sans, sans-serif" font-size="14.5" font-weight="bold" fill="#7a6a6a">2</text></g>
<path d="M754 189h11l6 6.5l-6 6.5h-11z" fill="#ff9900"/>
<path d="M755 190h10v2h-4v8h-2v-8h-4z" fill="#fff"/>
<polygon points="760,351.5 767,346 767,357" fill="#00e0e0"/><rect x="766" y="350" width="5" height="2.5" fill="#00e0e0"/>
<rect x="20.5" y="465.5" width="321.0" height="37.5" rx="6.5" ry="6.5" fill="none" stroke="#000" stroke-width="1" shape-rendering="crispEdges"/>
<rect x="344.5" y="465.5" width="339.0" height="37.5" rx="6.5" ry="6.5" fill="none" stroke="#000" stroke-width="1" shape-rendering="crispEdges"/>
<rect x="686.5" y="465.5" width="111.0" height="37.5" rx="6.5" ry="6.5" fill="none" stroke="#000" stroke-width="1" shape-rendering="crispEdges"/>
<rect x="26.0" y="468.0" width="24.8" height="15.8" rx="7.9" fill="#2020ff"/><g filter="url(#crisp)"><text x="38.7" y="480.8" font-family="'Liberation Sans', sans-serif" font-size="15.3" font-weight="600" fill="#fff" text-anchor="middle">1</text></g>
<g filter="url(#crisp)"><text x="67.5" y="481.0" font-family="'Liberation Sans', sans-serif" font-size="15.2" font-weight="normal" fill="#2020ff" textLength="40.5" lengthAdjust="spacingAndGlyphs" >2.00 V</text></g>
<rect x="26.0" y="486.0" width="24.8" height="15.8" rx="7.9" fill="#9900a8"/><g filter="url(#crisp)"><text x="38.7" y="498.8" font-family="'Liberation Sans', sans-serif" font-size="15.3" font-weight="600" fill="#fff" text-anchor="middle">3</text></g>
<path d="M61 488.5h1.2v5h3l-3.7 5.5l-3.7-5.5h3.2z" fill="#9900a8" shape-rendering="crispEdges"/>
<g filter="url(#crisp)"><text x="67.0" y="499.0" font-family="'Liberation Sans', sans-serif" font-size="15.4" font-weight="normal" fill="#9900a8" textLength="41.0" lengthAdjust="spacingAndGlyphs" >5.00 A</text></g>
<rect x="185.8" y="469.0" width="25.4" height="14.6" rx="7.3" fill="#20d0d8"/><g filter="url(#crisp)"><text x="198.8" y="480.6" font-family="'Liberation Sans', sans-serif" font-size="15.3" font-weight="600" fill="#fff" text-anchor="middle">2</text></g>
<g filter="url(#crisp)"><text x="227.4" y="481.0" font-family="'Liberation Sans', sans-serif" font-size="15.2" font-weight="normal" fill="#20d0d8" textLength="41.0" lengthAdjust="spacingAndGlyphs" >20.0 V</text></g>
<g filter="url(#crisp)"><text x="349.4" y="480.6" font-family="'Liberation Sans', sans-serif" font-size="14.8" font-weight="normal" fill="#000" textLength="51.6" lengthAdjust="spacingAndGlyphs" >Z 40.0ns</text></g>
<rect x="349" y="487" width="11.6" height="12.8" rx="2" fill="#ff9900"/>
<path d="M350.5 489h8.6v2.2h-3.2v7.5h-2.2v-7.5h-3.2z" fill="#fff"/>
<path d="M361 492.5h5v-3l5 3.7l-5 3.7v-3h-5z" fill="#ff9900" shape-rendering="crispEdges"/>
<polygon points="372,490 383,490 377.5,496" fill="#ff9900"/>
<g filter="url(#crisp)"><text x="384.5" y="498.7" font-family="'Liberation Sans', sans-serif" font-size="14.8" font-weight="normal" fill="#ff9900" textLength="77.0" lengthAdjust="spacingAndGlyphs" >−2.78409ms</text></g>
<g filter="url(#crisp)"><text x="484.4" y="480.7" font-family="'Liberation Sans', sans-serif" font-size="14.8" font-weight="normal" fill="#000" textLength="55.7" lengthAdjust="spacingAndGlyphs" >625MS/s</text></g>
<g filter="url(#crisp)"><text x="484.4" y="498.5" font-family="'Liberation Sans', sans-serif" font-size="14.8" font-weight="normal" fill="#000" textLength="61.0" lengthAdjust="spacingAndGlyphs" >5M points</text></g>
<rect x="578.8" y="468.0" width="25.5" height="15.7" rx="7.8" fill="#20d0d8"/><g filter="url(#crisp)"><text x="591.8" y="480.7" font-family="'Liberation Sans', sans-serif" font-size="15.3" font-weight="600" fill="#fff" text-anchor="middle">2</text></g>
<g filter="url(#crisp)"><text x="579.4" y="498.5" font-family="'Liberation Sans', sans-serif" font-size="14.8" font-weight="normal" fill="#000" textLength="49.0" lengthAdjust="spacingAndGlyphs" >Timeout</text></g>
<g filter="url(#crisp)"><text x="711.5" y="481.0" font-family="'Liberation Sans', sans-serif" font-size="14.8" font-weight="normal" fill="#000" textLength="80.5" lengthAdjust="spacingAndGlyphs" >20 Aug 2020</text></g>
<g filter="url(#crisp)"><text x="712.0" y="499.0" font-family="'Liberation Sans', sans-serif" font-size="14.8" font-weight="normal" fill="#000" textLength="56.4" lengthAdjust="spacingAndGlyphs" >15:11:59</text></g>
<text x="231.8" y="555.2" font-family="'Liberation Sans', sans-serif" font-size="22.2" font-weight="normal" fill="#000" textLength="337.0" lengthAdjust="spacingAndGlyphs" >MDO3014 - 15:30:12   2020/8/20</text>
</svg>
</body></html>
